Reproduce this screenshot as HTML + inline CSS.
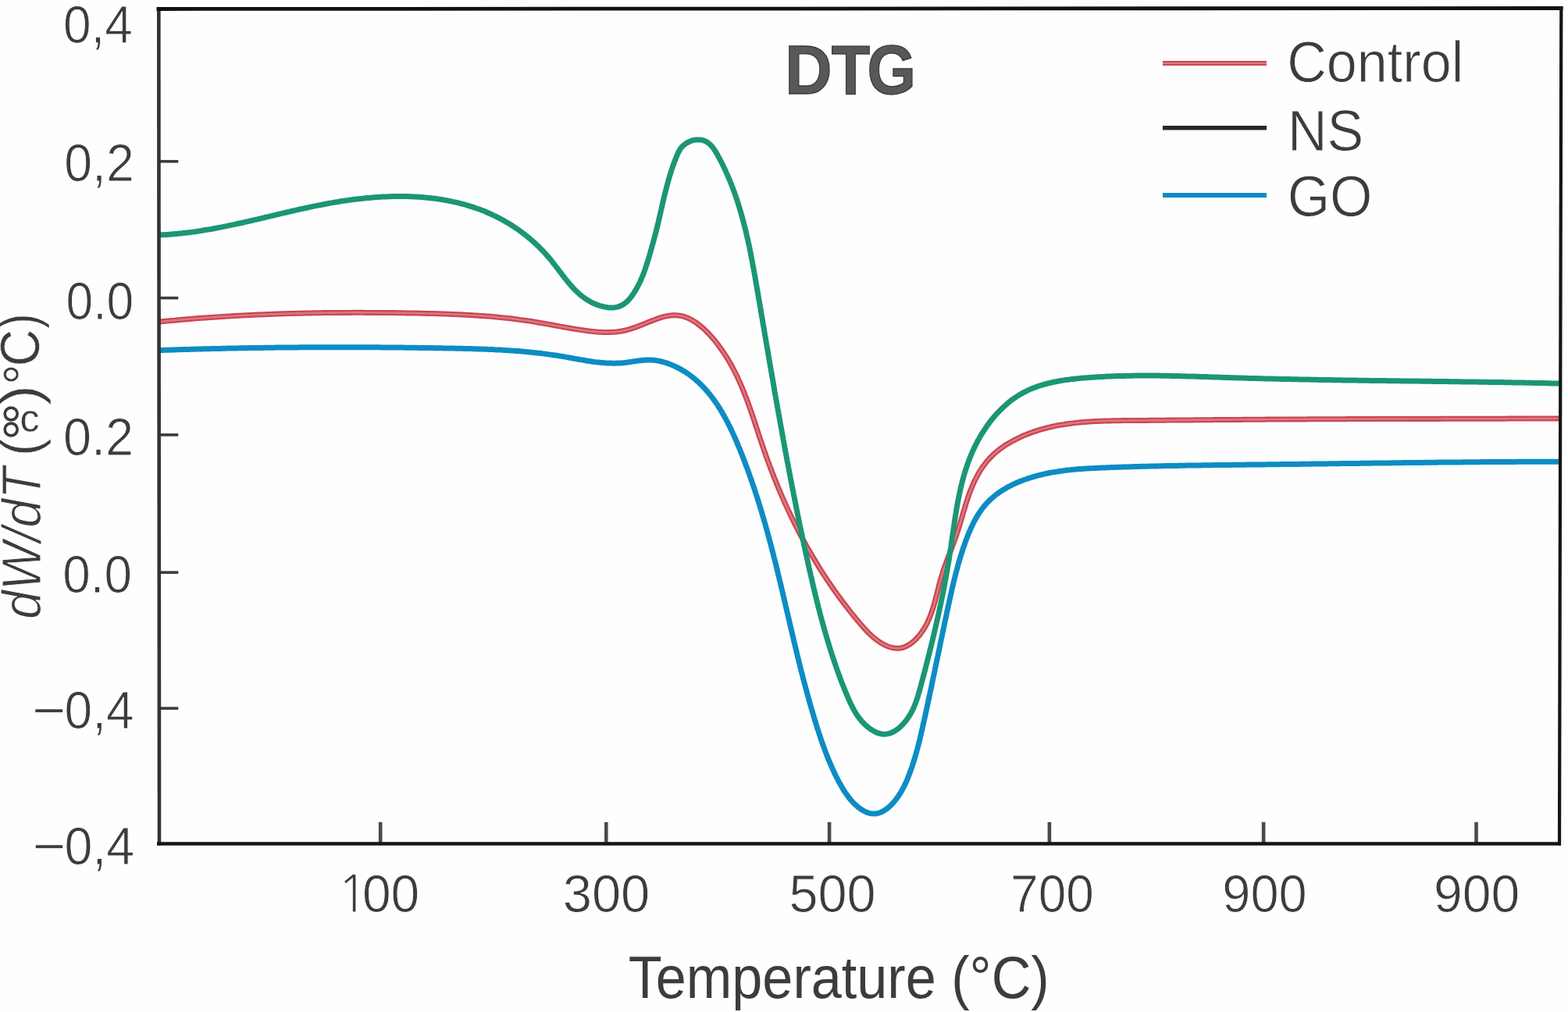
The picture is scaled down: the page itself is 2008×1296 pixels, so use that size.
<!DOCTYPE html>
<html><head><meta charset="utf-8"><title>DTG</title>
<style>
html,body{margin:0;padding:0;background:#fefefe;}
body{width:2008px;height:1296px;overflow:hidden;}
svg{display:block;}
text{font-family:"Liberation Sans",Arial,Helvetica,sans-serif;fill:#3c3c3c;stroke:#fefefe;stroke-width:0.9;paint-order:normal;}
</style></head><body>
<svg width="2008" height="1296" viewBox="0 0 2008 1296">
<rect width="2008" height="1296" fill="#fefefe"/>
<g fill="none" stroke-linejoin="round" stroke-linecap="butt" stroke-width="7">
<path d="M204.0,412.1 L206.5,411.8 L209.0,411.6 L211.5,411.3 L213.9,411.1 L216.4,410.9 L218.9,410.6 L221.4,410.4 L223.9,410.2 L226.4,409.9 L228.8,409.7 L231.3,409.5 L233.8,409.3 L236.3,409.1 L238.8,408.9 L241.3,408.6 L243.8,408.4 L246.3,408.2 L248.8,408.0 L251.2,407.8 L253.7,407.6 L256.2,407.5 L258.7,407.3 L261.2,407.1 L263.7,406.9 L266.2,406.7 L268.7,406.5 L271.2,406.4 L273.7,406.2 L276.2,406.0 L278.7,405.9 L281.2,405.7 L283.6,405.5 L286.1,405.4 L288.6,405.2 L291.1,405.1 L293.6,404.9 L296.1,404.8 L298.6,404.6 L301.1,404.5 L303.6,404.3 L306.1,404.2 L308.6,404.1 L311.1,403.9 L313.6,403.8 L316.1,403.7 L318.6,403.6 L321.1,403.4 L323.6,403.3 L326.1,403.2 L328.6,403.1 L331.1,403.0 L333.6,402.9 L336.1,402.8 L338.6,402.7 L341.1,402.6 L343.6,402.5 L346.1,402.4 L348.6,402.3 L351.1,402.2 L353.6,402.1 L356.1,402.0 L358.6,401.9 L361.1,401.8 L363.6,401.8 L366.1,401.7 L368.6,401.6 L371.1,401.5 L373.6,401.5 L376.1,401.4 L378.6,401.3 L381.1,401.3 L383.6,401.2 L386.1,401.2 L388.6,401.1 L391.1,401.0 L393.6,401.0 L396.1,400.9 L398.6,400.9 L401.1,400.8 L403.6,400.8 L406.1,400.8 L408.6,400.7 L411.1,400.7 L413.6,400.6 L416.1,400.6 L418.6,400.6 L421.1,400.6 L423.6,400.5 L426.1,400.5 L428.6,400.5 L431.1,400.5 L433.6,400.4 L436.1,400.4 L438.6,400.4 L441.1,400.4 L443.6,400.4 L446.1,400.4 L448.6,400.4 L451.1,400.3 L453.6,400.3 L456.1,400.3 L458.6,400.3 L461.1,400.3 L463.6,400.3 L466.1,400.3 L468.6,400.4 L471.1,400.4 L473.6,400.4 L476.1,400.4 L478.6,400.4 L481.1,400.4 L483.6,400.4 L486.1,400.4 L488.6,400.5 L491.1,400.5 L493.6,400.5 L496.1,400.5 L498.6,400.6 L501.1,400.6 L503.6,400.6 L506.1,400.6 L508.6,400.7 L511.1,400.7 L513.6,400.8 L516.1,400.8 L518.6,400.8 L521.1,400.9 L523.6,400.9 L526.1,401.0 L528.6,401.0 L531.1,401.0 L533.6,401.1 L536.1,401.1 L538.6,401.2 L541.1,401.2 L543.6,401.3 L546.1,401.4 L548.6,401.4 L551.0,401.5 L553.5,401.5 L556.0,401.6 L558.5,401.7 L561.0,401.8 L563.5,401.8 L566.0,401.9 L568.5,402.0 L571.0,402.1 L573.5,402.2 L576.0,402.3 L578.5,402.4 L580.9,402.5 L583.4,402.6 L585.9,402.7 L588.4,402.8 L590.9,402.9 L593.4,403.0 L595.9,403.2 L598.4,403.3 L600.9,403.4 L603.3,403.6 L605.8,403.7 L608.3,403.9 L610.8,404.0 L613.3,404.2 L615.8,404.4 L618.3,404.6 L620.8,404.7 L623.2,404.9 L625.7,405.1 L628.2,405.3 L630.7,405.6 L633.2,405.8 L635.7,406.0 L638.2,406.2 L640.7,406.5 L643.1,406.7 L645.6,407.0 L648.1,407.3 L650.6,407.5 L653.1,407.8 L655.6,408.1 L658.1,408.4 L660.6,408.7 L663.0,409.0 L665.5,409.4 L668.0,409.7 L670.5,410.1 L673.0,410.4 L675.5,410.8 L678.0,411.1 L680.4,411.5 L682.9,411.9 L685.4,412.3 L687.9,412.7 L690.4,413.2 L692.9,413.6 L695.4,414.0 L697.8,414.5 L700.3,414.9 L702.8,415.4 L705.3,415.8 L707.8,416.3 L710.3,416.7 L712.7,417.2 L715.2,417.6 L717.7,418.1 L720.2,418.5 L722.6,419.0 L725.1,419.4 L727.6,419.8 L730.0,420.3 L732.5,420.7 L735.0,421.1 L737.4,421.5 L739.9,421.9 L742.4,422.3 L744.8,422.6 L747.3,423.0 L749.7,423.3 L752.2,423.7 L754.6,424.0 L757.0,424.3 L759.5,424.5 L761.9,424.8 L764.3,425.0 L766.8,425.2 L769.2,425.3 L771.6,425.4 L774.1,425.5 L776.5,425.5 L778.9,425.5 L781.4,425.4 L783.8,425.3 L786.3,425.2 L788.7,425.0 L791.1,424.7 L793.6,424.3 L796.0,424.0 L798.5,423.5 L800.9,423.0 L803.4,422.4 L805.8,421.7 L808.3,420.9 L810.7,420.1 L813.2,419.3 L815.7,418.4 L818.1,417.4 L820.6,416.5 L823.1,415.5 L825.5,414.5 L828.0,413.5 L830.4,412.5 L832.9,411.5 L835.3,410.6 L837.8,409.7 L840.2,408.8 L842.6,407.9 L845.0,407.1 L847.4,406.4 L849.8,405.7 L852.2,405.1 L854.5,404.6 L856.9,404.2 L859.2,403.9 L861.5,403.7 L863.8,403.7 L866.1,403.7 L868.4,403.9 L870.6,404.2 L872.9,404.7 L875.1,405.2 L877.3,405.9 L879.4,406.7 L881.6,407.6 L883.7,408.6 L885.8,409.7 L887.9,411.0 L890.0,412.2 L892.0,413.6 L894.0,415.1 L896.0,416.6 L897.9,418.2 L899.9,419.9 L901.8,421.6 L903.6,423.4 L905.5,425.2 L907.3,427.0 L909.1,428.9 L910.8,430.9 L912.5,432.8 L914.2,434.8 L915.9,436.8 L917.5,438.9 L919.1,440.9 L920.6,442.9 L922.1,445.0 L923.6,447.1 L925.1,449.2 L926.5,451.3 L927.9,453.4 L929.3,455.5 L930.6,457.7 L932.0,459.8 L933.2,462.0 L934.5,464.1 L935.8,466.3 L937.0,468.5 L938.2,470.7 L939.3,472.9 L940.5,475.1 L941.6,477.4 L942.7,479.6 L943.8,481.8 L944.9,484.1 L945.9,486.4 L946.9,488.6 L948.0,490.9 L949.0,493.2 L949.9,495.5 L950.9,497.8 L951.8,500.1 L952.8,502.4 L953.7,504.7 L954.6,507.1 L955.5,509.4 L956.4,511.7 L957.2,514.1 L958.1,516.4 L958.9,518.7 L959.8,521.1 L960.6,523.5 L961.4,525.8 L962.3,528.2 L963.1,530.5 L963.9,532.9 L964.7,535.3 L965.5,537.6 L966.3,540.0 L967.0,542.4 L967.8,544.8 L968.6,547.1 L969.4,549.5 L970.2,551.9 L971.0,554.3 L971.7,556.6 L972.5,559.0 L973.3,561.4 L974.1,563.8 L974.9,566.1 L975.7,568.5 L976.5,570.9 L977.3,573.2 L978.1,575.6 L978.9,578.0 L979.8,580.3 L980.6,582.7 L981.4,585.0 L982.3,587.4 L983.1,589.7 L984.0,592.1 L984.9,594.4 L985.7,596.7 L986.6,599.1 L987.5,601.4 L988.4,603.7 L989.3,606.1 L990.2,608.4 L991.1,610.7 L992.0,613.0 L993.0,615.3 L993.9,617.7 L994.8,620.0 L995.8,622.3 L996.7,624.6 L997.7,626.9 L998.7,629.2 L999.6,631.5 L1000.6,633.7 L1001.6,636.0 L1002.6,638.3 L1003.6,640.6 L1004.6,642.9 L1005.6,645.1 L1006.7,647.4 L1007.7,649.7 L1008.7,651.9 L1009.8,654.2 L1010.9,656.4 L1011.9,658.7 L1013.0,660.9 L1014.1,663.2 L1015.2,665.4 L1016.3,667.6 L1017.4,669.9 L1018.5,672.1 L1019.6,674.3 L1020.7,676.5 L1021.9,678.8 L1023.0,681.0 L1024.1,683.2 L1025.3,685.4 L1026.5,687.6 L1027.6,689.8 L1028.8,692.0 L1030.0,694.2 L1031.2,696.3 L1032.4,698.5 L1033.6,700.7 L1034.9,702.9 L1036.1,705.0 L1037.3,707.2 L1038.6,709.3 L1039.8,711.5 L1041.1,713.6 L1042.4,715.8 L1043.7,717.9 L1045.0,720.1 L1046.3,722.2 L1047.6,724.3 L1048.9,726.4 L1050.2,728.6 L1051.5,730.7 L1052.9,732.8 L1054.2,734.9 L1055.6,737.0 L1057.0,739.1 L1058.4,741.2 L1059.7,743.3 L1061.1,745.3 L1062.5,747.4 L1064.0,749.5 L1065.4,751.5 L1066.8,753.6 L1068.3,755.7 L1069.7,757.7 L1071.2,759.8 L1072.6,761.8 L1074.1,763.8 L1075.6,765.9 L1077.1,767.9 L1078.6,769.9 L1080.1,771.9 L1081.6,773.9 L1083.2,775.9 L1084.7,777.9 L1086.3,779.9 L1087.8,781.9 L1089.4,783.9 L1091.0,785.9 L1092.6,787.9 L1094.2,789.8 L1095.8,791.8 L1097.4,793.7 L1099.1,795.7 L1100.7,797.6 L1102.3,799.6 L1104.0,801.5 L1105.7,803.4 L1107.4,805.3 L1109.1,807.2 L1110.9,809.0 L1112.6,810.8 L1114.4,812.5 L1116.3,814.3 L1118.1,815.9 L1120.0,817.5 L1122.0,819.1 L1124.0,820.5 L1126.0,821.9 L1128.1,823.3 L1130.2,824.5 L1132.4,825.7 L1134.6,826.8 L1136.9,827.7 L1139.1,828.5 L1141.5,829.2 L1143.8,829.8 L1146.1,830.1 L1148.4,830.3 L1150.7,830.2 L1152.9,830.0 L1155.2,829.5 L1157.4,828.9 L1159.5,828.1 L1161.7,827.0 L1163.7,825.9 L1165.8,824.5 L1167.8,823.1 L1169.7,821.5 L1171.6,819.8 L1173.4,818.0 L1175.1,816.2 L1176.8,814.2 L1178.4,812.2 L1180.0,810.1 L1181.4,808.1 L1182.8,805.9 L1184.1,803.8 L1185.4,801.6 L1186.6,799.4 L1187.7,797.1 L1188.7,794.9 L1189.8,792.6 L1190.7,790.3 L1191.6,788.0 L1192.5,785.6 L1193.3,783.3 L1194.1,780.9 L1194.9,778.5 L1195.6,776.1 L1196.3,773.7 L1197.0,771.3 L1197.7,768.8 L1198.3,766.4 L1198.9,763.9 L1199.5,761.5 L1200.2,759.1 L1200.8,756.6 L1201.4,754.2 L1202.0,751.7 L1202.6,749.3 L1203.3,746.8 L1203.9,744.4 L1204.6,742.0 L1205.3,739.6 L1206.0,737.2 L1206.8,734.8 L1207.5,732.4 L1208.3,730.1 L1209.1,727.7 L1209.9,725.3 L1210.8,723.0 L1211.6,720.7 L1212.5,718.3 L1213.3,716.0 L1214.2,713.7 L1215.1,711.3 L1216.0,709.0 L1216.8,706.7 L1217.7,704.4 L1218.6,702.1 L1219.5,699.7 L1220.4,697.4 L1221.2,695.1 L1222.1,692.7 L1222.9,690.4 L1223.8,688.1 L1224.6,685.7 L1225.4,683.4 L1226.2,681.0 L1227.0,678.6 L1227.7,676.3 L1228.5,673.9 L1229.2,671.5 L1229.9,669.1 L1230.6,666.7 L1231.3,664.3 L1232.0,661.9 L1232.7,659.5 L1233.4,657.1 L1234.1,654.7 L1234.9,652.3 L1235.6,649.9 L1236.3,647.5 L1237.0,645.1 L1237.8,642.7 L1238.6,640.3 L1239.3,637.9 L1240.2,635.5 L1241.0,633.2 L1241.8,630.8 L1242.7,628.5 L1243.7,626.1 L1244.6,623.8 L1245.6,621.5 L1246.6,619.2 L1247.6,616.9 L1248.7,614.6 L1249.9,612.4 L1251.0,610.2 L1252.2,608.0 L1253.4,605.8 L1254.7,603.7 L1256.0,601.6 L1257.4,599.5 L1258.8,597.4 L1260.3,595.4 L1261.8,593.5 L1263.3,591.5 L1264.9,589.6 L1266.5,587.8 L1268.2,585.9 L1270.0,584.2 L1271.8,582.4 L1273.6,580.7 L1275.5,579.1 L1277.4,577.5 L1279.4,575.9 L1281.4,574.4 L1283.5,573.0 L1285.5,571.5 L1287.6,570.1 L1289.8,568.8 L1292.0,567.5 L1294.1,566.2 L1296.3,565.0 L1298.6,563.8 L1300.8,562.6 L1303.1,561.5 L1305.4,560.4 L1307.6,559.3 L1309.9,558.3 L1312.2,557.3 L1314.5,556.4 L1316.8,555.5 L1319.2,554.6 L1321.5,553.7 L1323.8,552.9 L1326.2,552.1 L1328.5,551.4 L1330.9,550.6 L1333.3,549.9 L1335.6,549.3 L1338.0,548.6 L1340.4,548.0 L1342.8,547.4 L1345.2,546.8 L1347.6,546.3 L1350.0,545.8 L1352.4,545.3 L1354.9,544.8 L1357.3,544.4 L1359.7,544.0 L1362.2,543.6 L1364.6,543.2 L1367.1,542.8 L1369.5,542.5 L1372.0,542.2 L1374.4,541.9 L1376.9,541.6 L1379.4,541.3 L1381.8,541.1 L1384.3,540.8 L1386.8,540.6 L1389.3,540.4 L1391.8,540.2 L1394.3,540.0 L1396.8,539.9 L1399.3,539.7 L1401.8,539.6 L1404.3,539.5 L1406.8,539.4 L1409.3,539.3 L1411.8,539.2 L1414.3,539.1 L1416.8,539.0 L1419.3,538.9 L1421.8,538.9 L1424.3,538.8 L1426.9,538.8 L1429.4,538.7 L1431.9,538.7 L1434.4,538.7 L1436.9,538.6 L1439.4,538.6 L1442.0,538.6 L1444.5,538.6 L1447.0,538.5 L1449.5,538.5 L1452.0,538.5 L1454.5,538.5 L1457.1,538.5 L1459.6,538.4 L1462.1,538.4 L1464.6,538.4 L1467.1,538.4 L1469.6,538.4 L1472.1,538.3 L1474.6,538.3 L1477.2,538.3 L1479.7,538.3 L1482.2,538.3 L1484.7,538.2 L1487.2,538.2 L1489.7,538.2 L1492.2,538.2 L1494.7,538.1 L1497.2,538.1 L1499.7,538.1 L1502.2,538.1 L1504.7,538.1 L1507.2,538.0 L1509.7,538.0 L1512.2,538.0 L1514.7,538.0 L1517.2,538.0 L1519.7,537.9 L1522.2,537.9 L1524.7,537.9 L1527.2,537.9 L1529.7,537.8 L1532.2,537.8 L1534.7,537.8 L1537.2,537.8 L1539.7,537.8 L1542.2,537.7 L1544.7,537.7 L1547.2,537.7 L1549.7,537.7 L1552.2,537.7 L1554.7,537.6 L1557.2,537.6 L1559.7,537.6 L1562.2,537.6 L1564.7,537.6 L1567.2,537.5 L1569.7,537.5 L1572.1,537.5 L1574.6,537.5 L1577.1,537.5 L1579.6,537.4 L1582.1,537.4 L1584.6,537.4 L1587.1,537.4 L1589.6,537.4 L1592.1,537.3 L1594.6,537.3 L1597.1,537.3 L1599.6,537.3 L1602.1,537.3 L1604.6,537.3 L1607.1,537.2 L1609.6,537.2 L1612.0,537.2 L1614.5,537.2 L1617.0,537.2 L1619.5,537.2 L1622.0,537.1 L1624.5,537.1 L1627.0,537.1 L1629.5,537.1 L1632.0,537.1 L1634.5,537.1 L1637.0,537.0 L1639.5,537.0 L1642.0,537.0 L1644.5,537.0 L1647.0,537.0 L1649.5,537.0 L1652.0,537.0 L1654.5,536.9 L1657.0,536.9 L1659.5,536.9 L1662.0,536.9 L1664.5,536.9 L1667.0,536.9 L1669.5,536.9 L1672.0,536.9 L1674.4,536.8 L1676.9,536.8 L1679.4,536.8 L1681.9,536.8 L1684.4,536.8 L1686.9,536.8 L1689.4,536.8 L1691.9,536.8 L1694.4,536.8 L1696.9,536.7 L1699.4,536.7 L1701.9,536.7 L1704.4,536.7 L1706.9,536.7 L1709.4,536.7 L1711.9,536.7 L1714.4,536.7 L1716.9,536.7 L1719.4,536.7 L1721.9,536.7 L1724.4,536.6 L1726.9,536.6 L1729.4,536.6 L1731.9,536.6 L1734.4,536.6 L1736.9,536.6 L1739.4,536.6 L1741.9,536.6 L1744.4,536.6 L1746.9,536.6 L1749.5,536.6 L1752.0,536.6 L1754.5,536.6 L1757.0,536.6 L1759.5,536.5 L1762.0,536.5 L1764.5,536.5 L1767.0,536.5 L1769.5,536.5 L1772.0,536.5 L1774.5,536.5 L1777.0,536.5 L1779.5,536.5 L1782.0,536.5 L1784.5,536.5 L1787.0,536.5 L1789.5,536.5 L1792.0,536.5 L1794.5,536.5 L1797.0,536.5 L1799.5,536.4 L1802.0,536.4 L1804.5,536.4 L1807.0,536.4 L1809.5,536.4 L1812.0,536.4 L1814.5,536.4 L1817.0,536.4 L1819.5,536.4 L1822.0,536.4 L1824.5,536.4 L1827.0,536.4 L1829.5,536.4 L1832.0,536.4 L1834.5,536.4 L1837.0,536.4 L1839.5,536.4 L1842.0,536.4 L1844.5,536.4 L1847.0,536.3 L1849.5,536.3 L1852.0,536.3 L1854.5,536.3 L1857.0,536.3 L1859.5,536.3 L1862.1,536.3 L1864.6,536.3 L1867.1,536.3 L1869.6,536.3 L1872.1,536.3 L1874.6,536.3 L1877.1,536.3 L1879.6,536.3 L1882.1,536.3 L1884.6,536.3 L1887.1,536.3 L1889.6,536.3 L1892.1,536.2 L1894.6,536.2 L1897.1,536.2 L1899.6,536.2 L1902.1,536.2 L1904.6,536.2 L1907.1,536.2 L1909.6,536.2 L1912.1,536.2 L1914.6,536.2 L1917.1,536.2 L1919.6,536.2 L1922.1,536.2 L1924.6,536.2 L1927.1,536.2 L1929.6,536.1 L1932.1,536.1 L1934.6,536.1 L1937.1,536.1 L1939.6,536.1 L1942.1,536.1 L1944.6,536.1 L1947.1,536.1 L1949.6,536.1 L1952.1,536.1 L1954.6,536.1 L1957.1,536.1 L1959.6,536.0 L1962.1,536.0 L1964.5,536.0 L1967.0,536.0 L1969.5,536.0 L1972.0,536.0 L1974.5,536.0 L1977.0,536.0 L1979.5,536.0 L1982.0,536.0 L1984.5,536.0 L1987.0,535.9 L1989.5,535.9 L1992.0,535.9 L1994.5,535.9 L1997.0,535.9" stroke="#cd4652"/>
<path d="M204.0,412.1 L206.5,411.8 L209.0,411.6 L211.5,411.3 L213.9,411.1 L216.4,410.9 L218.9,410.6 L221.4,410.4 L223.9,410.2 L226.4,409.9 L228.8,409.7 L231.3,409.5 L233.8,409.3 L236.3,409.1 L238.8,408.9 L241.3,408.6 L243.8,408.4 L246.3,408.2 L248.8,408.0 L251.2,407.8 L253.7,407.6 L256.2,407.5 L258.7,407.3 L261.2,407.1 L263.7,406.9 L266.2,406.7 L268.7,406.5 L271.2,406.4 L273.7,406.2 L276.2,406.0 L278.7,405.9 L281.2,405.7 L283.6,405.5 L286.1,405.4 L288.6,405.2 L291.1,405.1 L293.6,404.9 L296.1,404.8 L298.6,404.6 L301.1,404.5 L303.6,404.3 L306.1,404.2 L308.6,404.1 L311.1,403.9 L313.6,403.8 L316.1,403.7 L318.6,403.6 L321.1,403.4 L323.6,403.3 L326.1,403.2 L328.6,403.1 L331.1,403.0 L333.6,402.9 L336.1,402.8 L338.6,402.7 L341.1,402.6 L343.6,402.5 L346.1,402.4 L348.6,402.3 L351.1,402.2 L353.6,402.1 L356.1,402.0 L358.6,401.9 L361.1,401.8 L363.6,401.8 L366.1,401.7 L368.6,401.6 L371.1,401.5 L373.6,401.5 L376.1,401.4 L378.6,401.3 L381.1,401.3 L383.6,401.2 L386.1,401.2 L388.6,401.1 L391.1,401.0 L393.6,401.0 L396.1,400.9 L398.6,400.9 L401.1,400.8 L403.6,400.8 L406.1,400.8 L408.6,400.7 L411.1,400.7 L413.6,400.6 L416.1,400.6 L418.6,400.6 L421.1,400.6 L423.6,400.5 L426.1,400.5 L428.6,400.5 L431.1,400.5 L433.6,400.4 L436.1,400.4 L438.6,400.4 L441.1,400.4 L443.6,400.4 L446.1,400.4 L448.6,400.4 L451.1,400.3 L453.6,400.3 L456.1,400.3 L458.6,400.3 L461.1,400.3 L463.6,400.3 L466.1,400.3 L468.6,400.4 L471.1,400.4 L473.6,400.4 L476.1,400.4 L478.6,400.4 L481.1,400.4 L483.6,400.4 L486.1,400.4 L488.6,400.5 L491.1,400.5 L493.6,400.5 L496.1,400.5 L498.6,400.6 L501.1,400.6 L503.6,400.6 L506.1,400.6 L508.6,400.7 L511.1,400.7 L513.6,400.8 L516.1,400.8 L518.6,400.8 L521.1,400.9 L523.6,400.9 L526.1,401.0 L528.6,401.0 L531.1,401.0 L533.6,401.1 L536.1,401.1 L538.6,401.2 L541.1,401.2 L543.6,401.3 L546.1,401.4 L548.6,401.4 L551.0,401.5 L553.5,401.5 L556.0,401.6 L558.5,401.7 L561.0,401.8 L563.5,401.8 L566.0,401.9 L568.5,402.0 L571.0,402.1 L573.5,402.2 L576.0,402.3 L578.5,402.4 L580.9,402.5 L583.4,402.6 L585.9,402.7 L588.4,402.8 L590.9,402.9 L593.4,403.0 L595.9,403.2 L598.4,403.3 L600.9,403.4 L603.3,403.6 L605.8,403.7 L608.3,403.9 L610.8,404.0 L613.3,404.2 L615.8,404.4 L618.3,404.6 L620.8,404.7 L623.2,404.9 L625.7,405.1 L628.2,405.3 L630.7,405.6 L633.2,405.8 L635.7,406.0 L638.2,406.2 L640.7,406.5 L643.1,406.7 L645.6,407.0 L648.1,407.3 L650.6,407.5 L653.1,407.8 L655.6,408.1 L658.1,408.4 L660.6,408.7 L663.0,409.0 L665.5,409.4 L668.0,409.7 L670.5,410.1 L673.0,410.4 L675.5,410.8 L678.0,411.1 L680.4,411.5 L682.9,411.9 L685.4,412.3 L687.9,412.7 L690.4,413.2 L692.9,413.6 L695.4,414.0 L697.8,414.5 L700.3,414.9 L702.8,415.4 L705.3,415.8 L707.8,416.3 L710.3,416.7 L712.7,417.2 L715.2,417.6 L717.7,418.1 L720.2,418.5 L722.6,419.0 L725.1,419.4 L727.6,419.8 L730.0,420.3 L732.5,420.7 L735.0,421.1 L737.4,421.5 L739.9,421.9 L742.4,422.3 L744.8,422.6 L747.3,423.0 L749.7,423.3 L752.2,423.7 L754.6,424.0 L757.0,424.3 L759.5,424.5 L761.9,424.8 L764.3,425.0 L766.8,425.2 L769.2,425.3 L771.6,425.4 L774.1,425.5 L776.5,425.5 L778.9,425.5 L781.4,425.4 L783.8,425.3 L786.3,425.2 L788.7,425.0 L791.1,424.7 L793.6,424.3 L796.0,424.0 L798.5,423.5 L800.9,423.0 L803.4,422.4 L805.8,421.7 L808.3,420.9 L810.7,420.1 L813.2,419.3 L815.7,418.4 L818.1,417.4 L820.6,416.5 L823.1,415.5 L825.5,414.5 L828.0,413.5 L830.4,412.5 L832.9,411.5 L835.3,410.6 L837.8,409.7 L840.2,408.8 L842.6,407.9 L845.0,407.1 L847.4,406.4 L849.8,405.7 L852.2,405.1 L854.5,404.6 L856.9,404.2 L859.2,403.9 L861.5,403.7 L863.8,403.7 L866.1,403.7 L868.4,403.9 L870.6,404.2 L872.9,404.7 L875.1,405.2 L877.3,405.9 L879.4,406.7 L881.6,407.6 L883.7,408.6 L885.8,409.7 L887.9,411.0 L890.0,412.2 L892.0,413.6 L894.0,415.1 L896.0,416.6 L897.9,418.2 L899.9,419.9 L901.8,421.6 L903.6,423.4 L905.5,425.2 L907.3,427.0 L909.1,428.9 L910.8,430.9 L912.5,432.8 L914.2,434.8 L915.9,436.8 L917.5,438.9 L919.1,440.9 L920.6,442.9 L922.1,445.0 L923.6,447.1 L925.1,449.2 L926.5,451.3 L927.9,453.4 L929.3,455.5 L930.6,457.7 L932.0,459.8 L933.2,462.0 L934.5,464.1 L935.8,466.3 L937.0,468.5 L938.2,470.7 L939.3,472.9 L940.5,475.1 L941.6,477.4 L942.7,479.6 L943.8,481.8 L944.9,484.1 L945.9,486.4 L946.9,488.6 L948.0,490.9 L949.0,493.2 L949.9,495.5 L950.9,497.8 L951.8,500.1 L952.8,502.4 L953.7,504.7 L954.6,507.1 L955.5,509.4 L956.4,511.7 L957.2,514.1 L958.1,516.4 L958.9,518.7 L959.8,521.1 L960.6,523.5 L961.4,525.8 L962.3,528.2 L963.1,530.5 L963.9,532.9 L964.7,535.3 L965.5,537.6 L966.3,540.0 L967.0,542.4 L967.8,544.8 L968.6,547.1 L969.4,549.5 L970.2,551.9 L971.0,554.3 L971.7,556.6 L972.5,559.0 L973.3,561.4 L974.1,563.8 L974.9,566.1 L975.7,568.5 L976.5,570.9 L977.3,573.2 L978.1,575.6 L978.9,578.0 L979.8,580.3 L980.6,582.7 L981.4,585.0 L982.3,587.4 L983.1,589.7 L984.0,592.1 L984.9,594.4 L985.7,596.7 L986.6,599.1 L987.5,601.4 L988.4,603.7 L989.3,606.1 L990.2,608.4 L991.1,610.7 L992.0,613.0 L993.0,615.3 L993.9,617.7 L994.8,620.0 L995.8,622.3 L996.7,624.6 L997.7,626.9 L998.7,629.2 L999.6,631.5 L1000.6,633.7 L1001.6,636.0 L1002.6,638.3 L1003.6,640.6 L1004.6,642.9 L1005.6,645.1 L1006.7,647.4 L1007.7,649.7 L1008.7,651.9 L1009.8,654.2 L1010.9,656.4 L1011.9,658.7 L1013.0,660.9 L1014.1,663.2 L1015.2,665.4 L1016.3,667.6 L1017.4,669.9 L1018.5,672.1 L1019.6,674.3 L1020.7,676.5 L1021.9,678.8 L1023.0,681.0 L1024.1,683.2 L1025.3,685.4 L1026.5,687.6 L1027.6,689.8 L1028.8,692.0 L1030.0,694.2 L1031.2,696.3 L1032.4,698.5 L1033.6,700.7 L1034.9,702.9 L1036.1,705.0 L1037.3,707.2 L1038.6,709.3 L1039.8,711.5 L1041.1,713.6 L1042.4,715.8 L1043.7,717.9 L1045.0,720.1 L1046.3,722.2 L1047.6,724.3 L1048.9,726.4 L1050.2,728.6 L1051.5,730.7 L1052.9,732.8 L1054.2,734.9 L1055.6,737.0 L1057.0,739.1 L1058.4,741.2 L1059.7,743.3 L1061.1,745.3 L1062.5,747.4 L1064.0,749.5 L1065.4,751.5 L1066.8,753.6 L1068.3,755.7 L1069.7,757.7 L1071.2,759.8 L1072.6,761.8 L1074.1,763.8 L1075.6,765.9 L1077.1,767.9 L1078.6,769.9 L1080.1,771.9 L1081.6,773.9 L1083.2,775.9 L1084.7,777.9 L1086.3,779.9 L1087.8,781.9 L1089.4,783.9 L1091.0,785.9 L1092.6,787.9 L1094.2,789.8 L1095.8,791.8 L1097.4,793.7 L1099.1,795.7 L1100.7,797.6 L1102.3,799.6 L1104.0,801.5 L1105.7,803.4 L1107.4,805.3 L1109.1,807.2 L1110.9,809.0 L1112.6,810.8 L1114.4,812.5 L1116.3,814.3 L1118.1,815.9 L1120.0,817.5 L1122.0,819.1 L1124.0,820.5 L1126.0,821.9 L1128.1,823.3 L1130.2,824.5 L1132.4,825.7 L1134.6,826.8 L1136.9,827.7 L1139.1,828.5 L1141.5,829.2 L1143.8,829.8 L1146.1,830.1 L1148.4,830.3 L1150.7,830.2 L1152.9,830.0 L1155.2,829.5 L1157.4,828.9 L1159.5,828.1 L1161.7,827.0 L1163.7,825.9 L1165.8,824.5 L1167.8,823.1 L1169.7,821.5 L1171.6,819.8 L1173.4,818.0 L1175.1,816.2 L1176.8,814.2 L1178.4,812.2 L1180.0,810.1 L1181.4,808.1 L1182.8,805.9 L1184.1,803.8 L1185.4,801.6 L1186.6,799.4 L1187.7,797.1 L1188.7,794.9 L1189.8,792.6 L1190.7,790.3 L1191.6,788.0 L1192.5,785.6 L1193.3,783.3 L1194.1,780.9 L1194.9,778.5 L1195.6,776.1 L1196.3,773.7 L1197.0,771.3 L1197.7,768.8 L1198.3,766.4 L1198.9,763.9 L1199.5,761.5 L1200.2,759.1 L1200.8,756.6 L1201.4,754.2 L1202.0,751.7 L1202.6,749.3 L1203.3,746.8 L1203.9,744.4 L1204.6,742.0 L1205.3,739.6 L1206.0,737.2 L1206.8,734.8 L1207.5,732.4 L1208.3,730.1 L1209.1,727.7 L1209.9,725.3 L1210.8,723.0 L1211.6,720.7 L1212.5,718.3 L1213.3,716.0 L1214.2,713.7 L1215.1,711.3 L1216.0,709.0 L1216.8,706.7 L1217.7,704.4 L1218.6,702.1 L1219.5,699.7 L1220.4,697.4 L1221.2,695.1 L1222.1,692.7 L1222.9,690.4 L1223.8,688.1 L1224.6,685.7 L1225.4,683.4 L1226.2,681.0 L1227.0,678.6 L1227.7,676.3 L1228.5,673.9 L1229.2,671.5 L1229.9,669.1 L1230.6,666.7 L1231.3,664.3 L1232.0,661.9 L1232.7,659.5 L1233.4,657.1 L1234.1,654.7 L1234.9,652.3 L1235.6,649.9 L1236.3,647.5 L1237.0,645.1 L1237.8,642.7 L1238.6,640.3 L1239.3,637.9 L1240.2,635.5 L1241.0,633.2 L1241.8,630.8 L1242.7,628.5 L1243.7,626.1 L1244.6,623.8 L1245.6,621.5 L1246.6,619.2 L1247.6,616.9 L1248.7,614.6 L1249.9,612.4 L1251.0,610.2 L1252.2,608.0 L1253.4,605.8 L1254.7,603.7 L1256.0,601.6 L1257.4,599.5 L1258.8,597.4 L1260.3,595.4 L1261.8,593.5 L1263.3,591.5 L1264.9,589.6 L1266.5,587.8 L1268.2,585.9 L1270.0,584.2 L1271.8,582.4 L1273.6,580.7 L1275.5,579.1 L1277.4,577.5 L1279.4,575.9 L1281.4,574.4 L1283.5,573.0 L1285.5,571.5 L1287.6,570.1 L1289.8,568.8 L1292.0,567.5 L1294.1,566.2 L1296.3,565.0 L1298.6,563.8 L1300.8,562.6 L1303.1,561.5 L1305.4,560.4 L1307.6,559.3 L1309.9,558.3 L1312.2,557.3 L1314.5,556.4 L1316.8,555.5 L1319.2,554.6 L1321.5,553.7 L1323.8,552.9 L1326.2,552.1 L1328.5,551.4 L1330.9,550.6 L1333.3,549.9 L1335.6,549.3 L1338.0,548.6 L1340.4,548.0 L1342.8,547.4 L1345.2,546.8 L1347.6,546.3 L1350.0,545.8 L1352.4,545.3 L1354.9,544.8 L1357.3,544.4 L1359.7,544.0 L1362.2,543.6 L1364.6,543.2 L1367.1,542.8 L1369.5,542.5 L1372.0,542.2 L1374.4,541.9 L1376.9,541.6 L1379.4,541.3 L1381.8,541.1 L1384.3,540.8 L1386.8,540.6 L1389.3,540.4 L1391.8,540.2 L1394.3,540.0 L1396.8,539.9 L1399.3,539.7 L1401.8,539.6 L1404.3,539.5 L1406.8,539.4 L1409.3,539.3 L1411.8,539.2 L1414.3,539.1 L1416.8,539.0 L1419.3,538.9 L1421.8,538.9 L1424.3,538.8 L1426.9,538.8 L1429.4,538.7 L1431.9,538.7 L1434.4,538.7 L1436.9,538.6 L1439.4,538.6 L1442.0,538.6 L1444.5,538.6 L1447.0,538.5 L1449.5,538.5 L1452.0,538.5 L1454.5,538.5 L1457.1,538.5 L1459.6,538.4 L1462.1,538.4 L1464.6,538.4 L1467.1,538.4 L1469.6,538.4 L1472.1,538.3 L1474.6,538.3 L1477.2,538.3 L1479.7,538.3 L1482.2,538.3 L1484.7,538.2 L1487.2,538.2 L1489.7,538.2 L1492.2,538.2 L1494.7,538.1 L1497.2,538.1 L1499.7,538.1 L1502.2,538.1 L1504.7,538.1 L1507.2,538.0 L1509.7,538.0 L1512.2,538.0 L1514.7,538.0 L1517.2,538.0 L1519.7,537.9 L1522.2,537.9 L1524.7,537.9 L1527.2,537.9 L1529.7,537.8 L1532.2,537.8 L1534.7,537.8 L1537.2,537.8 L1539.7,537.8 L1542.2,537.7 L1544.7,537.7 L1547.2,537.7 L1549.7,537.7 L1552.2,537.7 L1554.7,537.6 L1557.2,537.6 L1559.7,537.6 L1562.2,537.6 L1564.7,537.6 L1567.2,537.5 L1569.7,537.5 L1572.1,537.5 L1574.6,537.5 L1577.1,537.5 L1579.6,537.4 L1582.1,537.4 L1584.6,537.4 L1587.1,537.4 L1589.6,537.4 L1592.1,537.3 L1594.6,537.3 L1597.1,537.3 L1599.6,537.3 L1602.1,537.3 L1604.6,537.3 L1607.1,537.2 L1609.6,537.2 L1612.0,537.2 L1614.5,537.2 L1617.0,537.2 L1619.5,537.2 L1622.0,537.1 L1624.5,537.1 L1627.0,537.1 L1629.5,537.1 L1632.0,537.1 L1634.5,537.1 L1637.0,537.0 L1639.5,537.0 L1642.0,537.0 L1644.5,537.0 L1647.0,537.0 L1649.5,537.0 L1652.0,537.0 L1654.5,536.9 L1657.0,536.9 L1659.5,536.9 L1662.0,536.9 L1664.5,536.9 L1667.0,536.9 L1669.5,536.9 L1672.0,536.9 L1674.4,536.8 L1676.9,536.8 L1679.4,536.8 L1681.9,536.8 L1684.4,536.8 L1686.9,536.8 L1689.4,536.8 L1691.9,536.8 L1694.4,536.8 L1696.9,536.7 L1699.4,536.7 L1701.9,536.7 L1704.4,536.7 L1706.9,536.7 L1709.4,536.7 L1711.9,536.7 L1714.4,536.7 L1716.9,536.7 L1719.4,536.7 L1721.9,536.7 L1724.4,536.6 L1726.9,536.6 L1729.4,536.6 L1731.9,536.6 L1734.4,536.6 L1736.9,536.6 L1739.4,536.6 L1741.9,536.6 L1744.4,536.6 L1746.9,536.6 L1749.5,536.6 L1752.0,536.6 L1754.5,536.6 L1757.0,536.6 L1759.5,536.5 L1762.0,536.5 L1764.5,536.5 L1767.0,536.5 L1769.5,536.5 L1772.0,536.5 L1774.5,536.5 L1777.0,536.5 L1779.5,536.5 L1782.0,536.5 L1784.5,536.5 L1787.0,536.5 L1789.5,536.5 L1792.0,536.5 L1794.5,536.5 L1797.0,536.5 L1799.5,536.4 L1802.0,536.4 L1804.5,536.4 L1807.0,536.4 L1809.5,536.4 L1812.0,536.4 L1814.5,536.4 L1817.0,536.4 L1819.5,536.4 L1822.0,536.4 L1824.5,536.4 L1827.0,536.4 L1829.5,536.4 L1832.0,536.4 L1834.5,536.4 L1837.0,536.4 L1839.5,536.4 L1842.0,536.4 L1844.5,536.4 L1847.0,536.3 L1849.5,536.3 L1852.0,536.3 L1854.5,536.3 L1857.0,536.3 L1859.5,536.3 L1862.1,536.3 L1864.6,536.3 L1867.1,536.3 L1869.6,536.3 L1872.1,536.3 L1874.6,536.3 L1877.1,536.3 L1879.6,536.3 L1882.1,536.3 L1884.6,536.3 L1887.1,536.3 L1889.6,536.3 L1892.1,536.2 L1894.6,536.2 L1897.1,536.2 L1899.6,536.2 L1902.1,536.2 L1904.6,536.2 L1907.1,536.2 L1909.6,536.2 L1912.1,536.2 L1914.6,536.2 L1917.1,536.2 L1919.6,536.2 L1922.1,536.2 L1924.6,536.2 L1927.1,536.2 L1929.6,536.1 L1932.1,536.1 L1934.6,536.1 L1937.1,536.1 L1939.6,536.1 L1942.1,536.1 L1944.6,536.1 L1947.1,536.1 L1949.6,536.1 L1952.1,536.1 L1954.6,536.1 L1957.1,536.1 L1959.6,536.0 L1962.1,536.0 L1964.5,536.0 L1967.0,536.0 L1969.5,536.0 L1972.0,536.0 L1974.5,536.0 L1977.0,536.0 L1979.5,536.0 L1982.0,536.0 L1984.5,536.0 L1987.0,535.9 L1989.5,535.9 L1992.0,535.9 L1994.5,535.9 L1997.0,535.9" stroke="#d97b83" stroke-width="2.4"/>
<path d="M204.0,448.6 L206.5,448.5 L209.0,448.4 L211.5,448.3 L214.0,448.2 L216.5,448.2 L219.0,448.1 L221.5,448.0 L224.0,447.9 L226.5,447.8 L228.9,447.8 L231.4,447.7 L233.9,447.6 L236.4,447.5 L238.9,447.5 L241.4,447.4 L243.9,447.3 L246.4,447.2 L248.9,447.2 L251.4,447.1 L253.9,447.0 L256.4,447.0 L258.9,446.9 L261.4,446.8 L263.9,446.8 L266.4,446.7 L268.9,446.7 L271.4,446.6 L273.9,446.5 L276.4,446.5 L278.9,446.4 L281.4,446.4 L283.9,446.3 L286.4,446.3 L288.9,446.2 L291.4,446.1 L293.8,446.1 L296.3,446.0 L298.8,446.0 L301.3,445.9 L303.8,445.9 L306.3,445.8 L308.8,445.8 L311.3,445.8 L313.8,445.7 L316.3,445.7 L318.8,445.6 L321.3,445.6 L323.8,445.5 L326.3,445.5 L328.8,445.5 L331.3,445.4 L333.8,445.4 L336.3,445.4 L338.8,445.3 L341.3,445.3 L343.8,445.3 L346.3,445.2 L348.8,445.2 L351.3,445.2 L353.8,445.1 L356.3,445.1 L358.8,445.1 L361.3,445.0 L363.8,445.0 L366.3,445.0 L368.8,445.0 L371.3,444.9 L373.8,444.9 L376.3,444.9 L378.8,444.9 L381.3,444.9 L383.8,444.8 L386.3,444.8 L388.8,444.8 L391.3,444.8 L393.8,444.8 L396.3,444.8 L398.8,444.8 L401.3,444.7 L403.8,444.7 L406.3,444.7 L408.8,444.7 L411.3,444.7 L413.8,444.7 L416.3,444.7 L418.8,444.7 L421.3,444.7 L423.8,444.7 L426.3,444.7 L428.8,444.7 L431.3,444.7 L433.8,444.7 L436.2,444.7 L438.7,444.7 L441.2,444.7 L443.7,444.7 L446.2,444.7 L448.7,444.7 L451.2,444.7 L453.7,444.7 L456.2,444.7 L458.7,444.7 L461.2,444.7 L463.7,444.7 L466.2,444.7 L468.7,444.7 L471.2,444.8 L473.7,444.8 L476.2,444.8 L478.7,444.8 L481.2,444.8 L483.7,444.8 L486.2,444.8 L488.7,444.9 L491.2,444.9 L493.7,444.9 L496.2,444.9 L498.7,444.9 L501.2,445.0 L503.7,445.0 L506.2,445.0 L508.7,445.0 L511.2,445.1 L513.7,445.1 L516.2,445.1 L518.7,445.2 L521.2,445.2 L523.7,445.2 L526.2,445.2 L528.7,445.3 L531.2,445.3 L533.7,445.3 L536.2,445.4 L538.7,445.4 L541.2,445.4 L543.7,445.5 L546.2,445.5 L548.7,445.6 L551.2,445.6 L553.6,445.6 L556.1,445.7 L558.6,445.7 L561.1,445.8 L563.6,445.8 L566.1,445.8 L568.6,445.9 L571.1,445.9 L573.6,446.0 L576.1,446.0 L578.6,446.1 L581.1,446.1 L583.6,446.2 L586.1,446.2 L588.6,446.3 L591.1,446.3 L593.6,446.4 L596.1,446.5 L598.6,446.5 L601.1,446.6 L603.6,446.6 L606.1,446.7 L608.5,446.8 L611.0,446.9 L613.5,447.0 L616.0,447.0 L618.5,447.1 L621.0,447.2 L623.5,447.3 L626.0,447.4 L628.5,447.5 L631.0,447.6 L633.5,447.8 L636.0,447.9 L638.5,448.0 L640.9,448.1 L643.4,448.3 L645.9,448.4 L648.4,448.6 L650.9,448.7 L653.4,448.9 L655.9,449.1 L658.4,449.2 L660.9,449.4 L663.3,449.6 L665.8,449.8 L668.3,450.0 L670.8,450.2 L673.3,450.5 L675.8,450.7 L678.3,450.9 L680.7,451.2 L683.2,451.4 L685.7,451.7 L688.2,452.0 L690.7,452.3 L693.2,452.6 L695.6,452.9 L698.1,453.2 L700.6,453.5 L703.1,453.9 L705.6,454.2 L708.0,454.6 L710.5,454.9 L713.0,455.3 L715.5,455.7 L717.9,456.1 L720.4,456.5 L722.9,456.9 L725.4,457.4 L727.8,457.8 L730.3,458.3 L732.8,458.7 L735.3,459.2 L737.7,459.6 L740.2,460.0 L742.7,460.5 L745.2,460.9 L747.6,461.3 L750.1,461.8 L752.6,462.2 L755.0,462.5 L757.5,462.9 L760.0,463.2 L762.5,463.6 L764.9,463.9 L767.4,464.1 L769.9,464.4 L772.3,464.6 L774.8,464.8 L777.3,464.9 L779.8,465.1 L782.2,465.1 L784.7,465.2 L787.2,465.2 L789.7,465.1 L792.1,465.0 L794.6,464.9 L797.1,464.7 L799.6,464.5 L802.1,464.2 L804.6,463.8 L807.0,463.5 L809.5,463.1 L812.0,462.7 L814.5,462.4 L817.0,462.0 L819.5,461.7 L822.0,461.4 L824.5,461.2 L827.0,461.0 L829.5,460.9 L832.0,460.9 L834.5,461.0 L837.0,461.2 L839.5,461.5 L842.0,461.9 L844.5,462.4 L847.0,463.0 L849.5,463.6 L852.0,464.3 L854.4,465.1 L856.8,466.0 L859.2,466.9 L861.5,467.9 L863.8,468.9 L866.1,470.0 L868.3,471.1 L870.5,472.2 L872.6,473.4 L874.8,474.7 L876.9,475.9 L878.9,477.3 L880.9,478.6 L882.9,480.0 L884.9,481.5 L886.8,482.9 L888.7,484.4 L890.5,486.0 L892.3,487.6 L894.1,489.2 L895.9,490.8 L897.6,492.5 L899.3,494.2 L901.0,496.0 L902.7,497.8 L904.3,499.6 L905.9,501.4 L907.4,503.3 L909.0,505.2 L910.5,507.1 L912.0,509.1 L913.5,511.0 L914.9,513.0 L916.3,515.0 L917.7,517.1 L919.1,519.1 L920.4,521.2 L921.8,523.3 L923.1,525.5 L924.4,527.6 L925.6,529.8 L926.9,532.0 L928.1,534.2 L929.3,536.4 L930.5,538.6 L931.7,540.8 L932.8,543.1 L934.0,545.4 L935.1,547.6 L936.2,549.9 L937.3,552.2 L938.4,554.5 L939.4,556.9 L940.5,559.2 L941.5,561.5 L942.5,563.9 L943.5,566.2 L944.5,568.5 L945.5,570.9 L946.5,573.3 L947.5,575.6 L948.4,578.0 L949.3,580.3 L950.3,582.7 L951.2,585.1 L952.1,587.4 L953.0,589.8 L953.9,592.1 L954.8,594.5 L955.7,596.9 L956.6,599.2 L957.5,601.6 L958.3,603.9 L959.2,606.3 L960.0,608.6 L960.8,611.0 L961.7,613.4 L962.5,615.7 L963.3,618.1 L964.1,620.4 L964.9,622.8 L965.7,625.2 L966.5,627.5 L967.3,629.9 L968.0,632.3 L968.8,634.6 L969.6,637.0 L970.3,639.3 L971.1,641.7 L971.8,644.1 L972.5,646.4 L973.3,648.8 L974.0,651.2 L974.7,653.6 L975.4,655.9 L976.1,658.3 L976.8,660.7 L977.5,663.0 L978.2,665.4 L978.9,667.8 L979.6,670.2 L980.3,672.6 L980.9,674.9 L981.6,677.3 L982.3,679.7 L982.9,682.1 L983.6,684.5 L984.2,686.9 L984.9,689.3 L985.5,691.7 L986.2,694.1 L986.8,696.4 L987.4,698.8 L988.0,701.2 L988.7,703.7 L989.3,706.1 L989.9,708.5 L990.5,710.9 L991.1,713.3 L991.7,715.7 L992.4,718.1 L993.0,720.5 L993.6,723.0 L994.2,725.4 L994.8,727.8 L995.4,730.2 L995.9,732.6 L996.5,735.1 L997.1,737.5 L997.7,739.9 L998.3,742.4 L998.9,744.8 L999.5,747.2 L1000.0,749.7 L1000.6,752.1 L1001.2,754.5 L1001.8,757.0 L1002.3,759.4 L1002.9,761.8 L1003.5,764.3 L1004.1,766.7 L1004.6,769.2 L1005.2,771.6 L1005.8,774.0 L1006.3,776.5 L1006.9,778.9 L1007.5,781.4 L1008.0,783.8 L1008.6,786.2 L1009.2,788.7 L1009.8,791.1 L1010.3,793.6 L1010.9,796.0 L1011.5,798.5 L1012.0,800.9 L1012.6,803.4 L1013.2,805.8 L1013.8,808.2 L1014.3,810.7 L1014.9,813.1 L1015.5,815.6 L1016.1,818.0 L1016.6,820.5 L1017.2,822.9 L1017.8,825.3 L1018.4,827.8 L1019.0,830.2 L1019.6,832.6 L1020.1,835.1 L1020.7,837.5 L1021.3,840.0 L1021.9,842.4 L1022.5,844.8 L1023.1,847.3 L1023.7,849.7 L1024.3,852.1 L1024.9,854.5 L1025.5,857.0 L1026.1,859.4 L1026.8,861.8 L1027.4,864.2 L1028.0,866.7 L1028.6,869.1 L1029.3,871.5 L1029.9,873.9 L1030.5,876.3 L1031.2,878.7 L1031.8,881.2 L1032.5,883.6 L1033.1,886.0 L1033.8,888.4 L1034.4,890.8 L1035.1,893.2 L1035.8,895.6 L1036.4,898.0 L1037.1,900.4 L1037.8,902.8 L1038.5,905.2 L1039.2,907.5 L1039.9,909.9 L1040.6,912.3 L1041.3,914.7 L1042.0,917.1 L1042.7,919.4 L1043.4,921.8 L1044.1,924.2 L1044.9,926.5 L1045.6,928.9 L1046.3,931.3 L1047.1,933.6 L1047.9,936.0 L1048.6,938.3 L1049.4,940.7 L1050.2,943.0 L1050.9,945.4 L1051.7,947.7 L1052.5,950.0 L1053.3,952.4 L1054.2,954.7 L1055.0,957.0 L1055.9,959.3 L1056.7,961.7 L1057.6,964.0 L1058.5,966.3 L1059.4,968.6 L1060.3,970.9 L1061.2,973.2 L1062.2,975.5 L1063.2,977.8 L1064.2,980.1 L1065.2,982.4 L1066.2,984.7 L1067.3,987.0 L1068.3,989.3 L1069.4,991.6 L1070.6,993.9 L1071.7,996.2 L1072.9,998.5 L1074.1,1000.7 L1075.3,1003.0 L1076.6,1005.3 L1077.9,1007.5 L1079.2,1009.8 L1080.5,1012.0 L1081.9,1014.2 L1083.4,1016.3 L1084.9,1018.4 L1086.4,1020.5 L1088.0,1022.5 L1089.6,1024.5 L1091.3,1026.4 L1093.0,1028.2 L1094.8,1030.0 L1096.7,1031.7 L1098.6,1033.4 L1100.6,1034.9 L1102.6,1036.3 L1104.7,1037.6 L1106.8,1038.8 L1108.9,1039.8 L1111.0,1040.7 L1113.2,1041.4 L1115.4,1041.8 L1117.5,1042.1 L1119.7,1042.1 L1121.8,1042.0 L1123.9,1041.6 L1126.0,1041.0 L1128.1,1040.2 L1130.1,1039.2 L1132.1,1038.1 L1134.1,1036.8 L1136.1,1035.4 L1138.0,1033.9 L1139.9,1032.2 L1141.7,1030.4 L1143.5,1028.5 L1145.2,1026.5 L1146.9,1024.5 L1148.5,1022.4 L1150.0,1020.2 L1151.5,1018.0 L1153.0,1015.7 L1154.3,1013.5 L1155.6,1011.2 L1156.8,1008.9 L1158.0,1006.6 L1159.1,1004.3 L1160.2,1002.0 L1161.2,999.6 L1162.2,997.3 L1163.1,994.9 L1164.0,992.6 L1164.9,990.2 L1165.8,987.9 L1166.6,985.5 L1167.5,983.2 L1168.3,980.8 L1169.0,978.4 L1169.8,976.1 L1170.6,973.7 L1171.3,971.3 L1172.0,968.9 L1172.7,966.5 L1173.4,964.1 L1174.0,961.7 L1174.7,959.4 L1175.3,957.0 L1176.0,954.6 L1176.6,952.2 L1177.2,949.7 L1177.8,947.3 L1178.3,944.9 L1178.9,942.5 L1179.5,940.1 L1180.0,937.7 L1180.6,935.3 L1181.2,932.8 L1181.7,930.4 L1182.2,928.0 L1182.8,925.6 L1183.3,923.1 L1183.9,920.7 L1184.4,918.3 L1184.9,915.9 L1185.5,913.4 L1186.0,911.0 L1186.5,908.5 L1187.0,906.1 L1187.6,903.7 L1188.1,901.2 L1188.6,898.8 L1189.1,896.4 L1189.7,893.9 L1190.2,891.5 L1190.7,889.0 L1191.2,886.6 L1191.7,884.1 L1192.3,881.7 L1192.8,879.2 L1193.3,876.8 L1193.8,874.3 L1194.3,871.9 L1194.8,869.4 L1195.3,867.0 L1195.9,864.5 L1196.4,862.1 L1196.9,859.6 L1197.4,857.2 L1197.9,854.7 L1198.4,852.3 L1198.9,849.8 L1199.4,847.4 L1199.9,844.9 L1200.4,842.5 L1201.0,840.0 L1201.5,837.6 L1202.0,835.1 L1202.5,832.6 L1203.0,830.2 L1203.5,827.7 L1204.0,825.3 L1204.5,822.8 L1205.0,820.4 L1205.5,817.9 L1206.1,815.5 L1206.6,813.0 L1207.1,810.6 L1207.6,808.1 L1208.1,805.7 L1208.6,803.3 L1209.1,800.8 L1209.6,798.4 L1210.2,795.9 L1210.7,793.5 L1211.2,791.0 L1211.7,788.6 L1212.2,786.2 L1212.7,783.7 L1213.3,781.3 L1213.8,778.8 L1214.3,776.4 L1214.8,774.0 L1215.4,771.5 L1215.9,769.1 L1216.4,766.7 L1217.0,764.3 L1217.5,761.8 L1218.0,759.4 L1218.6,757.0 L1219.1,754.6 L1219.7,752.1 L1220.3,749.7 L1220.8,747.3 L1221.4,744.9 L1222.0,742.5 L1222.6,740.1 L1223.2,737.7 L1223.8,735.2 L1224.4,732.8 L1225.1,730.4 L1225.7,728.0 L1226.4,725.6 L1227.0,723.2 L1227.7,720.8 L1228.4,718.4 L1229.1,716.0 L1229.8,713.6 L1230.6,711.2 L1231.3,708.8 L1232.1,706.4 L1232.8,704.0 L1233.6,701.6 L1234.5,699.3 L1235.3,696.9 L1236.1,694.5 L1237.0,692.1 L1237.9,689.7 L1238.8,687.4 L1239.7,685.0 L1240.7,682.6 L1241.7,680.3 L1242.7,678.0 L1243.7,675.7 L1244.8,673.4 L1245.9,671.1 L1247.0,668.9 L1248.2,666.6 L1249.4,664.4 L1250.6,662.3 L1251.9,660.2 L1253.2,658.1 L1254.6,656.0 L1256.0,654.0 L1257.4,652.0 L1258.9,650.0 L1260.4,648.1 L1262.0,646.3 L1263.6,644.4 L1265.3,642.7 L1267.0,641.0 L1268.8,639.3 L1270.6,637.7 L1272.5,636.1 L1274.3,634.5 L1276.3,633.0 L1278.2,631.6 L1280.2,630.2 L1282.3,628.8 L1284.4,627.5 L1286.5,626.2 L1288.6,624.9 L1290.8,623.7 L1293.0,622.6 L1295.2,621.4 L1297.4,620.3 L1299.7,619.3 L1302.0,618.3 L1304.3,617.3 L1306.7,616.3 L1309.0,615.4 L1311.4,614.5 L1313.8,613.7 L1316.2,612.8 L1318.6,612.1 L1321.0,611.3 L1323.4,610.6 L1325.9,609.9 L1328.3,609.2 L1330.8,608.6 L1333.3,608.0 L1335.7,607.4 L1338.2,606.8 L1340.7,606.3 L1343.2,605.8 L1345.6,605.3 L1348.1,604.9 L1350.6,604.5 L1353.1,604.1 L1355.5,603.7 L1358.0,603.3 L1360.5,603.0 L1363.0,602.6 L1365.4,602.3 L1367.9,602.0 L1370.4,601.8 L1372.9,601.5 L1375.4,601.3 L1377.8,601.1 L1380.3,600.8 L1382.8,600.6 L1385.3,600.5 L1387.8,600.3 L1390.3,600.1 L1392.7,600.0 L1395.2,599.8 L1397.7,599.7 L1400.2,599.6 L1402.7,599.4 L1405.2,599.3 L1407.6,599.2 L1410.1,599.1 L1412.6,599.0 L1415.1,598.9 L1417.6,598.8 L1420.1,598.7 L1422.6,598.6 L1425.1,598.5 L1427.5,598.4 L1430.0,598.3 L1432.5,598.3 L1435.0,598.2 L1437.5,598.1 L1440.0,598.0 L1442.5,597.9 L1445.0,597.9 L1447.5,597.8 L1450.0,597.7 L1452.5,597.6 L1454.9,597.6 L1457.4,597.5 L1459.9,597.4 L1462.4,597.3 L1464.9,597.3 L1467.4,597.2 L1469.9,597.2 L1472.4,597.1 L1474.9,597.0 L1477.4,597.0 L1479.9,596.9 L1482.4,596.9 L1484.9,596.8 L1487.4,596.7 L1489.9,596.7 L1492.4,596.6 L1494.9,596.6 L1497.4,596.5 L1499.9,596.5 L1502.4,596.4 L1504.9,596.4 L1507.4,596.4 L1509.9,596.3 L1512.3,596.3 L1514.8,596.2 L1517.3,596.2 L1519.8,596.1 L1522.3,596.1 L1524.8,596.1 L1527.3,596.0 L1529.8,596.0 L1532.3,595.9 L1534.8,595.9 L1537.3,595.9 L1539.8,595.8 L1542.3,595.8 L1544.8,595.8 L1547.3,595.7 L1549.8,595.7 L1552.3,595.7 L1554.8,595.6 L1557.3,595.6 L1559.8,595.6 L1562.3,595.5 L1564.8,595.5 L1567.3,595.5 L1569.8,595.5 L1572.3,595.4 L1574.8,595.4 L1577.3,595.4 L1579.8,595.3 L1582.3,595.3 L1584.8,595.3 L1587.3,595.2 L1589.8,595.2 L1592.3,595.2 L1594.8,595.2 L1597.3,595.1 L1599.8,595.1 L1602.3,595.1 L1604.8,595.0 L1607.3,595.0 L1609.8,595.0 L1612.3,595.0 L1614.8,594.9 L1617.3,594.9 L1619.8,594.9 L1622.3,594.8 L1624.8,594.8 L1627.3,594.8 L1629.8,594.8 L1632.3,594.7 L1634.8,594.7 L1637.3,594.7 L1639.8,594.6 L1642.3,594.6 L1644.8,594.6 L1647.3,594.5 L1649.8,594.5 L1652.3,594.5 L1654.8,594.4 L1657.3,594.4 L1659.8,594.4 L1662.3,594.4 L1664.8,594.3 L1667.3,594.3 L1669.8,594.3 L1672.3,594.2 L1674.8,594.2 L1677.3,594.2 L1679.8,594.1 L1682.3,594.1 L1684.8,594.1 L1687.3,594.0 L1689.8,594.0 L1692.3,594.0 L1694.8,593.9 L1697.3,593.9 L1699.8,593.9 L1702.3,593.8 L1704.8,593.8 L1707.3,593.8 L1709.8,593.7 L1712.3,593.7 L1714.8,593.7 L1717.3,593.6 L1719.8,593.6 L1722.3,593.6 L1724.8,593.6 L1727.3,593.5 L1729.8,593.5 L1732.3,593.5 L1734.8,593.4 L1737.3,593.4 L1739.8,593.4 L1742.2,593.3 L1744.7,593.3 L1747.2,593.3 L1749.7,593.2 L1752.2,593.2 L1754.7,593.2 L1757.2,593.1 L1759.7,593.1 L1762.2,593.1 L1764.7,593.0 L1767.2,593.0 L1769.7,593.0 L1772.2,592.9 L1774.7,592.9 L1777.2,592.9 L1779.7,592.9 L1782.2,592.8 L1784.7,592.8 L1787.2,592.8 L1789.7,592.7 L1792.2,592.7 L1794.7,592.7 L1797.2,592.6 L1799.7,592.6 L1802.2,592.6 L1804.7,592.6 L1807.2,592.5 L1809.7,592.5 L1812.2,592.5 L1814.7,592.4 L1817.2,592.4 L1819.6,592.4 L1822.1,592.4 L1824.6,592.3 L1827.1,592.3 L1829.6,592.3 L1832.1,592.3 L1834.6,592.2 L1837.1,592.2 L1839.6,592.2 L1842.1,592.1 L1844.6,592.1 L1847.1,592.1 L1849.6,592.1 L1852.1,592.0 L1854.6,592.0 L1857.1,592.0 L1859.6,592.0 L1862.1,591.9 L1864.6,591.9 L1867.1,591.9 L1869.6,591.9 L1872.1,591.9 L1874.6,591.8 L1877.1,591.8 L1879.6,591.8 L1882.1,591.8 L1884.6,591.7 L1887.1,591.7 L1889.6,591.7 L1892.1,591.7 L1894.6,591.7 L1897.1,591.6 L1899.6,591.6 L1902.0,591.6 L1904.5,591.6 L1907.0,591.6 L1909.5,591.6 L1912.0,591.5 L1914.5,591.5 L1917.0,591.5 L1919.5,591.5 L1922.0,591.5 L1924.5,591.5 L1927.0,591.4 L1929.5,591.4 L1932.0,591.4 L1934.5,591.4 L1937.0,591.4 L1939.5,591.4 L1942.0,591.4 L1944.5,591.3 L1947.0,591.3 L1949.5,591.3 L1952.0,591.3 L1954.5,591.3 L1957.0,591.3 L1959.5,591.3 L1962.0,591.3 L1964.5,591.3 L1967.0,591.3 L1969.5,591.3 L1972.0,591.2 L1974.5,591.2 L1977.0,591.2 L1979.5,591.2 L1982.0,591.2 L1984.5,591.2 L1987.0,591.2 L1989.5,591.2 L1992.0,591.2 L1994.5,591.2 L1997.0,591.2" stroke="#0d8cc4"/>
<path d="M204.0,300.9 L206.5,300.8 L209.1,300.7 L211.6,300.5 L214.2,300.4 L216.7,300.2 L219.2,300.0 L221.8,299.8 L224.3,299.6 L226.8,299.4 L229.3,299.1 L231.8,298.9 L234.3,298.6 L236.8,298.3 L239.3,298.0 L241.8,297.7 L244.3,297.4 L246.7,297.1 L249.2,296.7 L251.7,296.4 L254.1,296.0 L256.6,295.6 L259.1,295.2 L261.5,294.8 L264.0,294.4 L266.4,294.0 L268.9,293.6 L271.3,293.2 L273.8,292.7 L276.2,292.3 L278.7,291.8 L281.1,291.3 L283.5,290.9 L286.0,290.4 L288.4,289.9 L290.8,289.4 L293.2,288.9 L295.7,288.4 L298.1,287.9 L300.5,287.4 L302.9,286.8 L305.3,286.3 L307.7,285.8 L310.2,285.2 L312.6,284.7 L315.0,284.1 L317.4,283.6 L319.8,283.0 L322.2,282.5 L324.6,281.9 L327.0,281.4 L329.4,280.8 L331.9,280.2 L334.3,279.7 L336.7,279.1 L339.1,278.5 L341.5,277.9 L343.9,277.4 L346.3,276.8 L348.7,276.2 L351.1,275.7 L353.5,275.1 L355.9,274.5 L358.4,273.9 L360.8,273.4 L363.2,272.8 L365.6,272.2 L368.0,271.7 L370.4,271.1 L372.8,270.5 L375.3,270.0 L377.7,269.4 L380.1,268.9 L382.5,268.3 L385.0,267.8 L387.4,267.3 L389.8,266.7 L392.3,266.2 L394.7,265.7 L397.1,265.1 L399.6,264.6 L402.0,264.1 L404.5,263.6 L406.9,263.1 L409.4,262.6 L411.8,262.2 L414.3,261.7 L416.7,261.2 L419.2,260.8 L421.7,260.3 L424.2,259.9 L426.6,259.4 L429.1,259.0 L431.6,258.6 L434.1,258.2 L436.6,257.8 L439.1,257.4 L441.6,257.0 L444.1,256.7 L446.6,256.3 L449.1,256.0 L451.6,255.6 L454.1,255.3 L456.6,255.0 L459.1,254.7 L461.7,254.4 L464.2,254.2 L466.7,253.9 L469.2,253.6 L471.7,253.4 L474.3,253.2 L476.8,253.0 L479.3,252.8 L481.9,252.6 L484.4,252.4 L486.9,252.3 L489.4,252.1 L492.0,252.0 L494.5,251.9 L497.0,251.8 L499.6,251.7 L502.1,251.6 L504.6,251.6 L507.1,251.5 L509.7,251.5 L512.2,251.5 L514.7,251.5 L517.2,251.5 L519.7,251.6 L522.2,251.6 L524.8,251.7 L527.3,251.8 L529.8,251.9 L532.3,252.0 L534.8,252.2 L537.3,252.3 L539.8,252.5 L542.3,252.7 L544.8,252.9 L547.2,253.2 L549.7,253.4 L552.2,253.7 L554.7,254.0 L557.1,254.3 L559.6,254.6 L562.1,255.0 L564.5,255.4 L567.0,255.8 L569.4,256.2 L571.8,256.6 L574.3,257.1 L576.7,257.6 L579.1,258.1 L581.5,258.6 L583.9,259.1 L586.3,259.7 L588.7,260.3 L591.1,260.9 L593.5,261.5 L595.9,262.2 L598.2,262.9 L600.6,263.6 L602.9,264.3 L605.3,265.1 L607.6,265.9 L610.0,266.7 L612.3,267.5 L614.6,268.3 L616.9,269.2 L619.2,270.1 L621.5,271.0 L623.7,272.0 L626.0,273.0 L628.3,274.0 L630.5,275.0 L632.7,276.1 L635.0,277.1 L637.2,278.3 L639.4,279.4 L641.6,280.6 L643.8,281.7 L645.9,283.0 L648.1,284.2 L650.2,285.5 L652.4,286.7 L654.5,288.1 L656.6,289.4 L658.7,290.8 L660.7,292.2 L662.8,293.6 L664.8,295.0 L666.9,296.5 L668.9,298.0 L670.9,299.5 L672.9,301.0 L674.8,302.6 L676.8,304.2 L678.7,305.8 L680.6,307.4 L682.5,309.1 L684.4,310.7 L686.2,312.4 L688.0,314.2 L689.9,315.9 L691.6,317.7 L693.4,319.5 L695.2,321.3 L696.9,323.1 L698.6,325.0 L700.3,326.9 L701.9,328.8 L703.6,330.7 L705.2,332.6 L706.8,334.6 L708.3,336.6 L709.9,338.6 L711.4,340.6 L713.0,342.6 L714.5,344.6 L716.0,346.6 L717.6,348.6 L719.1,350.6 L720.6,352.6 L722.2,354.6 L723.7,356.6 L725.3,358.6 L726.8,360.5 L728.4,362.4 L730.0,364.3 L731.7,366.2 L733.3,368.0 L735.0,369.8 L736.7,371.6 L738.5,373.3 L740.3,375.0 L742.1,376.6 L744.0,378.2 L745.9,379.7 L747.9,381.2 L749.9,382.6 L752.0,384.0 L754.1,385.3 L756.3,386.5 L758.5,387.7 L760.8,388.7 L763.2,389.7 L765.6,390.7 L768.1,391.5 L770.6,392.2 L773.2,392.9 L775.7,393.3 L778.3,393.7 L780.8,393.9 L783.3,394.0 L785.8,393.9 L788.2,393.6 L790.5,393.1 L792.8,392.4 L795.0,391.6 L797.1,390.5 L799.1,389.2 L801.0,387.8 L802.9,386.2 L804.6,384.5 L806.3,382.6 L807.9,380.7 L809.5,378.6 L810.9,376.5 L812.4,374.3 L813.7,372.1 L815.0,369.9 L816.2,367.6 L817.4,365.4 L818.6,363.1 L819.7,360.8 L820.7,358.5 L821.7,356.2 L822.7,353.9 L823.6,351.6 L824.5,349.3 L825.4,346.9 L826.2,344.6 L827.0,342.2 L827.8,339.9 L828.6,337.5 L829.3,335.1 L830.0,332.8 L830.8,330.4 L831.5,328.0 L832.2,325.6 L832.8,323.2 L833.5,320.8 L834.2,318.4 L834.9,316.0 L835.5,313.6 L836.2,311.2 L836.9,308.8 L837.5,306.3 L838.2,303.9 L838.8,301.5 L839.5,299.1 L840.1,296.6 L840.7,294.2 L841.3,291.8 L841.9,289.4 L842.5,286.9 L843.1,284.5 L843.6,282.1 L844.2,279.6 L844.8,277.2 L845.3,274.8 L845.9,272.4 L846.4,269.9 L847.0,267.5 L847.5,265.1 L848.1,262.6 L848.6,260.2 L849.2,257.8 L849.8,255.4 L850.3,253.0 L850.9,250.5 L851.5,248.1 L852.1,245.7 L852.7,243.3 L853.3,240.9 L854.0,238.5 L854.6,236.1 L855.3,233.7 L855.9,231.3 L856.6,228.9 L857.3,226.5 L858.0,224.1 L858.8,221.7 L859.5,219.3 L860.3,216.9 L861.1,214.5 L862.0,212.1 L862.8,209.7 L863.7,207.3 L864.6,204.9 L865.5,202.5 L866.5,200.1 L867.5,197.7 L868.6,195.3 L869.8,193.1 L871.1,190.9 L872.6,188.9 L874.3,187.0 L876.2,185.4 L878.1,183.9 L880.3,182.6 L882.5,181.5 L884.8,180.5 L887.1,179.8 L889.5,179.3 L891.9,179.0 L894.2,178.9 L896.6,179.0 L898.9,179.3 L901.1,179.9 L903.2,180.7 L905.1,181.8 L907.0,183.0 L908.7,184.5 L910.4,186.1 L912.0,187.9 L913.5,189.8 L914.9,191.8 L916.3,193.9 L917.6,196.1 L918.9,198.4 L920.1,200.7 L921.4,203.0 L922.5,205.2 L923.7,207.5 L924.9,209.8 L926.0,212.1 L927.1,214.5 L928.2,216.8 L929.3,219.1 L930.3,221.4 L931.4,223.7 L932.4,226.1 L933.4,228.4 L934.4,230.7 L935.3,233.1 L936.3,235.4 L937.2,237.8 L938.1,240.1 L939.0,242.5 L939.9,244.9 L940.7,247.2 L941.6,249.6 L942.4,252.0 L943.2,254.3 L944.0,256.7 L944.8,259.1 L945.5,261.5 L946.3,263.9 L947.0,266.3 L947.7,268.7 L948.4,271.1 L949.1,273.5 L949.8,275.9 L950.5,278.3 L951.1,280.7 L951.8,283.1 L952.4,285.5 L953.0,287.9 L953.7,290.3 L954.3,292.7 L954.9,295.2 L955.4,297.6 L956.0,300.0 L956.6,302.5 L957.1,304.9 L957.7,307.3 L958.2,309.7 L958.7,312.2 L959.3,314.6 L959.8,317.1 L960.3,319.5 L960.8,321.9 L961.3,324.4 L961.7,326.8 L962.2,329.3 L962.7,331.7 L963.2,334.2 L963.6,336.6 L964.1,339.1 L964.5,341.5 L965.0,344.0 L965.4,346.4 L965.9,348.9 L966.3,351.4 L966.8,353.8 L967.2,356.3 L967.6,358.7 L968.0,361.2 L968.5,363.6 L968.9,366.1 L969.3,368.6 L969.7,371.0 L970.2,373.5 L970.6,375.9 L971.0,378.4 L971.4,380.9 L971.8,383.3 L972.3,385.8 L972.7,388.3 L973.1,390.7 L973.5,393.2 L974.0,395.6 L974.4,398.1 L974.8,400.6 L975.2,403.0 L975.6,405.5 L976.1,408.0 L976.5,410.4 L976.9,412.9 L977.3,415.3 L977.7,417.8 L978.2,420.3 L978.6,422.7 L979.0,425.2 L979.4,427.7 L979.8,430.1 L980.3,432.6 L980.7,435.0 L981.1,437.5 L981.5,440.0 L981.9,442.4 L982.4,444.9 L982.8,447.4 L983.2,449.8 L983.6,452.3 L984.1,454.8 L984.5,457.2 L984.9,459.7 L985.3,462.1 L985.7,464.6 L986.2,467.1 L986.6,469.5 L987.0,472.0 L987.4,474.5 L987.9,476.9 L988.3,479.4 L988.7,481.9 L989.1,484.3 L989.6,486.8 L990.0,489.2 L990.4,491.7 L990.9,494.2 L991.3,496.6 L991.7,499.1 L992.1,501.6 L992.6,504.0 L993.0,506.5 L993.4,508.9 L993.9,511.4 L994.3,513.9 L994.7,516.3 L995.2,518.8 L995.6,521.3 L996.0,523.7 L996.5,526.2 L996.9,528.6 L997.4,531.1 L997.8,533.6 L998.2,536.0 L998.7,538.5 L999.1,541.0 L999.6,543.4 L1000.0,545.9 L1000.5,548.3 L1000.9,550.8 L1001.3,553.3 L1001.8,555.7 L1002.2,558.2 L1002.7,560.6 L1003.1,563.1 L1003.6,565.6 L1004.0,568.0 L1004.5,570.5 L1004.9,572.9 L1005.4,575.4 L1005.8,577.8 L1006.3,580.3 L1006.8,582.8 L1007.2,585.2 L1007.7,587.7 L1008.1,590.1 L1008.6,592.6 L1009.1,595.0 L1009.5,597.5 L1010.0,600.0 L1010.5,602.4 L1010.9,604.9 L1011.4,607.3 L1011.9,609.8 L1012.3,612.2 L1012.8,614.7 L1013.3,617.1 L1013.8,619.6 L1014.2,622.1 L1014.7,624.5 L1015.2,627.0 L1015.7,629.4 L1016.1,631.9 L1016.6,634.3 L1017.1,636.8 L1017.6,639.2 L1018.1,641.7 L1018.6,644.1 L1019.1,646.6 L1019.6,649.0 L1020.0,651.5 L1020.5,653.9 L1021.0,656.4 L1021.5,658.8 L1022.0,661.3 L1022.5,663.7 L1023.0,666.2 L1023.5,668.6 L1024.0,671.1 L1024.5,673.5 L1025.1,676.0 L1025.6,678.4 L1026.1,680.8 L1026.6,683.3 L1027.1,685.7 L1027.6,688.2 L1028.1,690.6 L1028.7,693.1 L1029.2,695.5 L1029.7,698.0 L1030.2,700.4 L1030.8,702.8 L1031.3,705.3 L1031.8,707.7 L1032.4,710.2 L1032.9,712.6 L1033.4,715.0 L1034.0,717.5 L1034.5,719.9 L1035.0,722.4 L1035.6,724.8 L1036.1,727.2 L1036.7,729.7 L1037.2,732.1 L1037.8,734.5 L1038.3,737.0 L1038.9,739.4 L1039.5,741.8 L1040.0,744.3 L1040.6,746.7 L1041.1,749.1 L1041.7,751.6 L1042.3,754.0 L1042.9,756.4 L1043.5,758.8 L1044.0,761.3 L1044.6,763.7 L1045.2,766.1 L1045.8,768.5 L1046.4,771.0 L1047.0,773.4 L1047.6,775.8 L1048.2,778.2 L1048.9,780.7 L1049.5,783.1 L1050.1,785.5 L1050.7,787.9 L1051.4,790.3 L1052.0,792.7 L1052.7,795.1 L1053.3,797.5 L1054.0,799.9 L1054.7,802.4 L1055.3,804.8 L1056.0,807.2 L1056.7,809.6 L1057.4,812.0 L1058.1,814.4 L1058.8,816.8 L1059.5,819.1 L1060.2,821.5 L1060.9,823.9 L1061.7,826.3 L1062.4,828.7 L1063.1,831.1 L1063.9,833.5 L1064.6,835.9 L1065.4,838.2 L1066.2,840.6 L1067.0,843.0 L1067.8,845.4 L1068.6,847.7 L1069.4,850.1 L1070.2,852.5 L1071.0,854.8 L1071.8,857.2 L1072.7,859.5 L1073.5,861.9 L1074.4,864.3 L1075.3,866.6 L1076.1,869.0 L1077.0,871.3 L1077.9,873.7 L1078.8,876.0 L1079.7,878.3 L1080.7,880.7 L1081.6,883.0 L1082.6,885.3 L1083.5,887.7 L1084.5,890.0 L1085.5,892.3 L1086.5,894.6 L1087.5,896.9 L1088.5,899.2 L1089.6,901.5 L1090.7,903.7 L1091.8,906.0 L1093.0,908.2 L1094.2,910.4 L1095.5,912.5 L1096.8,914.6 L1098.2,916.7 L1099.6,918.7 L1101.1,920.7 L1102.7,922.6 L1104.4,924.5 L1106.1,926.3 L1107.9,928.1 L1109.8,929.8 L1111.7,931.4 L1113.8,933.0 L1115.9,934.4 L1118.1,935.8 L1120.3,937.0 L1122.5,938.0 L1124.8,938.9 L1127.1,939.5 L1129.4,940.0 L1131.7,940.2 L1133.9,940.2 L1136.2,939.9 L1138.4,939.4 L1140.6,938.7 L1142.8,937.8 L1144.9,936.7 L1147.0,935.4 L1149.1,934.0 L1151.1,932.5 L1153.0,930.8 L1154.9,928.9 L1156.7,927.0 L1158.5,925.0 L1160.2,922.9 L1161.8,920.7 L1163.3,918.5 L1164.7,916.3 L1166.1,914.0 L1167.3,911.8 L1168.5,909.5 L1169.6,907.2 L1170.7,904.8 L1171.6,902.5 L1172.5,900.2 L1173.4,897.8 L1174.2,895.5 L1175.0,893.1 L1175.7,890.7 L1176.4,888.3 L1177.1,886.0 L1177.8,883.6 L1178.4,881.2 L1179.1,878.8 L1179.7,876.4 L1180.3,874.0 L1181.0,871.6 L1181.6,869.2 L1182.3,866.8 L1182.9,864.4 L1183.5,862.0 L1184.2,859.6 L1184.8,857.2 L1185.4,854.8 L1186.0,852.4 L1186.6,850.0 L1187.3,847.6 L1187.9,845.2 L1188.5,842.8 L1189.1,840.4 L1189.7,838.0 L1190.3,835.5 L1190.9,833.1 L1191.5,830.7 L1192.1,828.3 L1192.7,825.9 L1193.3,823.5 L1193.9,821.0 L1194.5,818.6 L1195.0,816.2 L1195.6,813.8 L1196.2,811.3 L1196.8,808.9 L1197.3,806.5 L1197.9,804.1 L1198.5,801.6 L1199.0,799.2 L1199.6,796.8 L1200.1,794.3 L1200.7,791.9 L1201.2,789.5 L1201.7,787.0 L1202.3,784.6 L1202.8,782.1 L1203.3,779.7 L1203.8,777.3 L1204.4,774.8 L1204.9,772.4 L1205.4,769.9 L1205.9,767.5 L1206.4,765.0 L1206.9,762.6 L1207.4,760.1 L1207.9,757.7 L1208.3,755.2 L1208.8,752.7 L1209.3,750.3 L1209.8,747.8 L1210.2,745.4 L1210.7,742.9 L1211.1,740.4 L1211.6,738.0 L1212.0,735.5 L1212.5,733.0 L1212.9,730.6 L1213.3,728.1 L1213.7,725.6 L1214.1,723.2 L1214.6,720.7 L1215.0,718.2 L1215.4,715.7 L1215.8,713.3 L1216.1,710.8 L1216.5,708.3 L1216.9,705.8 L1217.3,703.3 L1217.7,700.8 L1218.0,698.4 L1218.4,695.9 L1218.7,693.4 L1219.1,690.9 L1219.4,688.4 L1219.8,685.9 L1220.2,683.4 L1220.5,681.0 L1220.9,678.5 L1221.2,676.0 L1221.6,673.5 L1222.0,671.0 L1222.3,668.5 L1222.7,666.1 L1223.1,663.6 L1223.5,661.1 L1223.9,658.6 L1224.3,656.2 L1224.7,653.7 L1225.1,651.2 L1225.5,648.8 L1225.9,646.3 L1226.4,643.8 L1226.8,641.4 L1227.3,638.9 L1227.8,636.5 L1228.3,634.1 L1228.8,631.6 L1229.3,629.2 L1229.9,626.8 L1230.4,624.3 L1231.0,621.9 L1231.6,619.5 L1232.2,617.1 L1232.8,614.7 L1233.5,612.3 L1234.1,609.9 L1234.8,607.5 L1235.5,605.2 L1236.2,602.8 L1237.0,600.4 L1237.8,598.1 L1238.6,595.7 L1239.4,593.4 L1240.2,591.0 L1241.1,588.7 L1242.0,586.4 L1243.0,584.1 L1243.9,581.8 L1244.9,579.5 L1245.9,577.2 L1247.0,574.9 L1248.0,572.7 L1249.1,570.4 L1250.3,568.2 L1251.4,565.9 L1252.6,563.7 L1253.9,561.5 L1255.1,559.3 L1256.4,557.1 L1257.7,554.9 L1259.1,552.8 L1260.5,550.7 L1261.9,548.6 L1263.3,546.5 L1264.8,544.4 L1266.3,542.4 L1267.8,540.3 L1269.4,538.3 L1270.9,536.4 L1272.5,534.4 L1274.2,532.5 L1275.8,530.6 L1277.5,528.8 L1279.3,526.9 L1281.0,525.2 L1282.8,523.4 L1284.6,521.7 L1286.4,520.0 L1288.3,518.3 L1290.1,516.7 L1292.1,515.1 L1294.0,513.6 L1295.9,512.1 L1297.9,510.7 L1299.9,509.3 L1302.0,507.9 L1304.0,506.6 L1306.1,505.3 L1308.2,504.1 L1310.3,502.9 L1312.5,501.8 L1314.7,500.7 L1316.9,499.6 L1319.1,498.6 L1321.3,497.7 L1323.6,496.8 L1325.9,495.9 L1328.2,495.1 L1330.5,494.3 L1332.9,493.5 L1335.2,492.8 L1337.6,492.1 L1340.0,491.5 L1342.4,490.9 L1344.8,490.3 L1347.2,489.7 L1349.6,489.2 L1352.1,488.7 L1354.5,488.3 L1357.0,487.8 L1359.5,487.4 L1362.0,487.0 L1364.5,486.6 L1367.0,486.3 L1369.5,486.0 L1372.0,485.6 L1374.5,485.4 L1377.0,485.1 L1379.5,484.8 L1382.1,484.6 L1384.6,484.3 L1387.1,484.1 L1389.6,483.9 L1392.2,483.7 L1394.7,483.5 L1397.2,483.3 L1399.7,483.2 L1402.3,483.0 L1404.8,482.8 L1407.3,482.7 L1409.8,482.5 L1412.4,482.4 L1414.9,482.3 L1417.4,482.1 L1419.9,482.0 L1422.4,481.9 L1424.9,481.8 L1427.4,481.7 L1430.0,481.6 L1432.5,481.6 L1435.0,481.5 L1437.5,481.4 L1440.0,481.4 L1442.5,481.3 L1445.0,481.3 L1447.5,481.2 L1450.0,481.2 L1452.5,481.1 L1455.0,481.1 L1457.5,481.1 L1460.0,481.1 L1462.5,481.1 L1465.0,481.0 L1467.5,481.0 L1470.0,481.0 L1472.5,481.1 L1475.0,481.1 L1477.5,481.1 L1480.0,481.1 L1482.5,481.1 L1485.0,481.1 L1487.5,481.2 L1490.0,481.2 L1492.5,481.2 L1495.0,481.3 L1497.5,481.3 L1500.0,481.4 L1502.5,481.4 L1505.0,481.5 L1507.5,481.5 L1509.9,481.6 L1512.4,481.7 L1514.9,481.7 L1517.4,481.8 L1519.9,481.9 L1522.4,481.9 L1524.9,482.0 L1527.4,482.1 L1529.9,482.1 L1532.4,482.2 L1534.9,482.3 L1537.3,482.4 L1539.8,482.4 L1542.3,482.5 L1544.8,482.6 L1547.3,482.7 L1549.8,482.8 L1552.3,482.9 L1554.8,482.9 L1557.3,483.0 L1559.7,483.1 L1562.2,483.2 L1564.7,483.3 L1567.2,483.4 L1569.7,483.4 L1572.2,483.5 L1574.7,483.6 L1577.2,483.7 L1579.7,483.8 L1582.2,483.8 L1584.7,483.9 L1587.1,484.0 L1589.6,484.1 L1592.1,484.1 L1594.6,484.2 L1597.1,484.3 L1599.6,484.4 L1602.1,484.4 L1604.6,484.5 L1607.1,484.6 L1609.6,484.6 L1612.1,484.7 L1614.6,484.8 L1617.1,484.8 L1619.6,484.9 L1622.1,484.9 L1624.6,485.0 L1627.1,485.1 L1629.5,485.1 L1632.0,485.2 L1634.5,485.3 L1637.0,485.3 L1639.5,485.4 L1642.0,485.4 L1644.5,485.5 L1647.0,485.5 L1649.5,485.6 L1652.0,485.6 L1654.5,485.7 L1657.0,485.7 L1659.5,485.8 L1662.0,485.8 L1664.5,485.9 L1667.0,485.9 L1669.5,486.0 L1672.0,486.0 L1674.5,486.1 L1677.0,486.1 L1679.5,486.2 L1682.0,486.2 L1684.5,486.3 L1687.0,486.3 L1689.5,486.4 L1692.0,486.4 L1694.5,486.5 L1697.0,486.5 L1699.5,486.5 L1702.0,486.6 L1704.5,486.6 L1707.0,486.7 L1709.5,486.7 L1712.0,486.7 L1714.5,486.8 L1717.0,486.8 L1719.5,486.9 L1722.0,486.9 L1724.5,486.9 L1727.0,487.0 L1729.5,487.0 L1732.0,487.0 L1734.5,487.1 L1737.0,487.1 L1739.5,487.2 L1742.0,487.2 L1744.5,487.2 L1747.0,487.3 L1749.5,487.3 L1752.0,487.3 L1754.5,487.4 L1757.0,487.4 L1759.5,487.4 L1762.0,487.5 L1764.5,487.5 L1767.0,487.5 L1769.5,487.6 L1772.1,487.6 L1774.6,487.6 L1777.1,487.7 L1779.6,487.7 L1782.1,487.7 L1784.6,487.7 L1787.1,487.8 L1789.6,487.8 L1792.1,487.8 L1794.6,487.9 L1797.1,487.9 L1799.6,487.9 L1802.1,488.0 L1804.6,488.0 L1807.1,488.0 L1809.6,488.1 L1812.1,488.1 L1814.6,488.1 L1817.1,488.1 L1819.6,488.2 L1822.1,488.2 L1824.6,488.2 L1827.1,488.3 L1829.6,488.3 L1832.1,488.3 L1834.6,488.4 L1837.1,488.4 L1839.6,488.4 L1842.1,488.5 L1844.6,488.5 L1847.1,488.5 L1849.6,488.6 L1852.1,488.6 L1854.6,488.6 L1857.1,488.7 L1859.6,488.7 L1862.1,488.7 L1864.6,488.8 L1867.1,488.8 L1869.6,488.8 L1872.1,488.9 L1874.6,488.9 L1877.1,488.9 L1879.6,489.0 L1882.1,489.0 L1884.6,489.0 L1887.1,489.1 L1889.6,489.1 L1892.1,489.1 L1894.6,489.2 L1897.1,489.2 L1899.6,489.2 L1902.1,489.3 L1904.6,489.3 L1907.1,489.4 L1909.6,489.4 L1912.1,489.4 L1914.6,489.5 L1917.1,489.5 L1919.6,489.6 L1922.1,489.6 L1924.6,489.6 L1927.1,489.7 L1929.6,489.7 L1932.1,489.8 L1934.6,489.8 L1937.1,489.9 L1939.6,489.9 L1942.1,489.9 L1944.6,490.0 L1947.1,490.0 L1949.6,490.1 L1952.1,490.1 L1954.6,490.2 L1957.1,490.2 L1959.6,490.3 L1962.1,490.3 L1964.6,490.4 L1967.1,490.4 L1969.6,490.5 L1972.1,490.5 L1974.6,490.6 L1977.1,490.6 L1979.5,490.7 L1982.0,490.8 L1984.5,490.8 L1987.0,490.9 L1989.5,490.9 L1992.0,491.0 L1994.5,491.0 L1997.0,491.1" stroke="#1b9674"/>
</g>
<g stroke="#3a3a3a" stroke-width="3.6"><line x1="203" y1="206.7" x2="228.3" y2="206.7"/><line x1="203" y1="381.6" x2="228.3" y2="381.6"/><line x1="203" y1="556.9" x2="228.3" y2="556.9"/><line x1="203" y1="733.1" x2="228.3" y2="733.1"/><line x1="203" y1="907.1" x2="228.3" y2="907.1"/></g>
<g stroke="#4a4a4a" stroke-width="4.6"><line x1="487.2" y1="1080" x2="487.2" y2="1052.8"/><line x1="776.3" y1="1080" x2="776.3" y2="1052.8"/><line x1="1062.1" y1="1080" x2="1062.1" y2="1052.8"/><line x1="1343.9" y1="1080" x2="1343.9" y2="1052.8"/><line x1="1618.1" y1="1080" x2="1618.1" y2="1052.8"/><line x1="1890.5" y1="1080" x2="1890.5" y2="1052.8"/></g>
<path d="M204,1082.5 L203.3,9.5" stroke="#333" stroke-width="4.6" fill="none"/>
<path d="M200.5,11.5 L2001.5,10.5" stroke="#111" stroke-width="4.8" fill="none"/>
<path d="M1999.3,8.5 L1997,1082.5" stroke="#151515" stroke-width="4.2" fill="none"/>
<path d="M201,1080.5 L1999,1080.5" stroke="#151515" stroke-width="4.4" fill="none"/>
<g stroke-width="6.2">
<line x1="1489" y1="81" x2="1622" y2="81" stroke="#cd4652"/>
<line x1="1489" y1="81" x2="1622" y2="81" stroke="#d97b83" stroke-width="2"/>
<line x1="1489" y1="163.8" x2="1622" y2="163.8" stroke="#262626" stroke-width="5.6"/>
<line x1="1489" y1="250" x2="1622" y2="250" stroke="#0d8cc4"/>
</g>
<text transform="translate(80.91,54.5) scale(0.9308,1)" font-size="68.8">0,4</text>
<text transform="translate(82.29,231.5) scale(0.936,1)" font-size="68.8">0,2</text>
<text transform="translate(84.58,408.5) scale(0.9067,1)" font-size="68.8">0.0</text>
<text transform="translate(80.88,582.6) scale(0.9416,1)" font-size="68.8">0.2</text>
<text transform="translate(80.32,759.4) scale(0.9278,1)" font-size="68.8">0.0</text>
<text transform="translate(40.9,932.9) scale(1.0758,1)" font-size="68.8">&#8722;</text>
<text transform="translate(82.61,932.9) scale(0.9308,1)" font-size="68.8">0,4</text>
<text transform="translate(41.46,1106.7) scale(1.0606,1)" font-size="68.8">&#8722;</text>
<text transform="translate(82.38,1106.7) scale(0.9396,1)" font-size="68.8">0,4</text>
<text transform="translate(431.2,1168.2) scale(1.0333,1)" font-size="64.7" style='font-family:"NanumGothic","Liberation Sans",sans-serif;'>1</text>
<text transform="translate(463.92,1168.2) scale(0.9592,1)" font-size="68.8">00</text>
<text transform="translate(720.68,1168.2) scale(0.9725,1)" font-size="68.8">300</text>
<text transform="translate(1010.39,1168.2) scale(0.9688,1)" font-size="68.8">500</text>
<text transform="translate(1294.08,1168.2) scale(0.9296,1)" font-size="68.8">700</text>
<text transform="translate(1565.37,1168.2) scale(0.944,1)" font-size="68.8">900</text>
<text transform="translate(1835.92,1168.1) scale(0.9606,1)" font-size="68.8">900</text>
<text transform="translate(804.75,1278.1) scale(0.9237,1)" font-size="76" style='stroke:none;'>Temperature (°C)</text>
<text transform="translate(1005.3,120.2) scale(0.9327,1)" font-size="89.5" font-weight="bold" style='fill:#585858;stroke:#3a3a3a;stroke-width:1.4;'>D</text>
<text transform="translate(1064.8,119.7) scale(0.9019,1)" font-size="89.5" font-weight="bold" style='fill:#585858;stroke:#3a3a3a;stroke-width:1.4;'>T</text>
<text transform="translate(1110.41,120.2) scale(0.8967,1)" font-size="89.5" font-weight="bold" style='fill:#585858;stroke:#3a3a3a;stroke-width:1.4;'>G</text>
<text transform="translate(1648.24,105.3) scale(0.9411,1)" font-size="74.5" style='stroke-width:0.9;'>Control</text>
<text transform="translate(1648.96,192.5) scale(0.9404,1)" font-size="74.5" style='stroke-width:0.9;'>NS</text>
<text transform="translate(1648.65,276.8) scale(0.938,1)" font-size="74.5" style='stroke-width:0.9;'>GO</text>
<g transform="translate(52,791) rotate(-90)"><text transform="translate(-1.88,0) scale(0.9423,1)" font-size="70" font-style="italic" style='stroke-width:1.1;'>dW/dT</text><text transform="translate(207.22,-2) scale(0.9444,1)" font-size="70" style='stroke-width:0.5;'>(</text><text transform="translate(227.0,2) scale(1.0,1)" font-size="70" style='stroke:none;'><tspan letter-spacing="-8">°°</tspan></text><text transform="translate(271.89,-2) scale(1.1111,1)" font-size="70" style='stroke-width:0.5;'>)</text><text transform="translate(298.2,2) scale(0.95,1)" font-size="70" style='stroke-width:0.5;'>°</text><text transform="translate(321.84,-2) scale(0.9395,1)" font-size="70" style='stroke-width:0.5;'>C</text><text transform="translate(370.19,-4) scale(0.8111,1)" font-size="70" style='stroke-width:0.5;'>)</text><text transform="translate(238.5,-26.5) rotate(90)" font-size="50" style="stroke-width:0.3">c</text></g>
</svg>
</body></html>
